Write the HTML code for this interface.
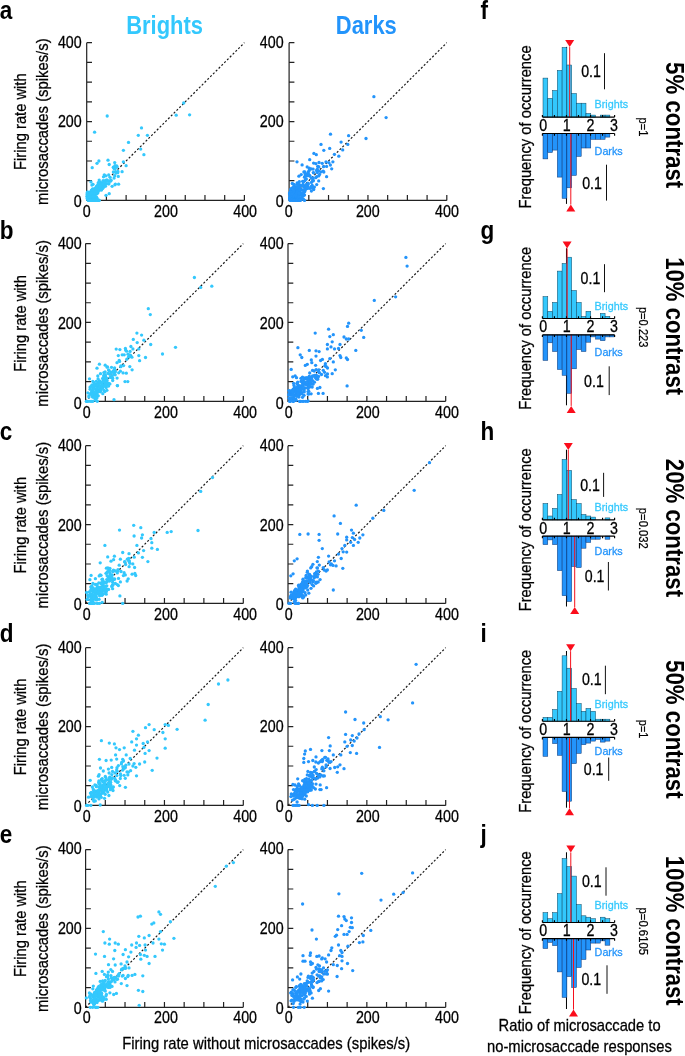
<!DOCTYPE html>
<html lang="en"><head><meta charset="utf-8"><title>Figure</title>
<style>html,body{margin:0;padding:0;background:#fff}svg{display:block;will-change:transform}</style></head>
<body>
<svg width="685" height="1056" viewBox="0 0 685 1056" font-family='"Liberation Sans", sans-serif'>
<rect width="685" height="1056" fill="#fff"/>
<text transform="translate(126.20,33.90) scale(0.868,1)" font-size="25.3" text-anchor="start" font-weight="bold" fill="#33C8FD">Brights</text>
<text transform="translate(335.80,33.80) scale(0.868,1)" font-size="25.3" text-anchor="start" font-weight="bold" fill="#2394FB">Darks</text>
<text transform="translate(-0.30,19.10) scale(0.85,1)" font-size="26.5" text-anchor="start" font-weight="bold" fill="#000">a</text>
<text transform="translate(480.40,19.10) scale(0.85,1)" font-size="26.5" text-anchor="start" font-weight="bold" fill="#000">f</text>
<text transform="translate(-0.30,238.60) scale(0.85,1)" font-size="26.5" text-anchor="start" font-weight="bold" fill="#000">b</text>
<text transform="translate(480.40,238.60) scale(0.85,1)" font-size="26.5" text-anchor="start" font-weight="bold" fill="#000">g</text>
<text transform="translate(-0.30,440.10) scale(0.85,1)" font-size="26.5" text-anchor="start" font-weight="bold" fill="#000">c</text>
<text transform="translate(480.40,440.10) scale(0.85,1)" font-size="26.5" text-anchor="start" font-weight="bold" fill="#000">h</text>
<text transform="translate(-0.30,641.50) scale(0.85,1)" font-size="26.5" text-anchor="start" font-weight="bold" fill="#000">d</text>
<text transform="translate(480.40,641.50) scale(0.85,1)" font-size="26.5" text-anchor="start" font-weight="bold" fill="#000">i</text>
<text transform="translate(-0.30,843.40) scale(0.85,1)" font-size="26.5" text-anchor="start" font-weight="bold" fill="#000">e</text>
<text transform="translate(480.40,843.40) scale(0.85,1)" font-size="26.5" text-anchor="start" font-weight="bold" fill="#000">j</text>
<path d="M86.70 42.70V200.40H244.40M86.70 180.69h5.3M106.41 200.40v-5.3M86.70 160.98h5.3M126.12 200.40v-5.3M86.70 141.26h5.3M145.84 200.40v-5.3M86.70 121.55h5.3M165.55 200.40v-5.3M86.70 101.84h5.3M185.26 200.40v-5.3M86.70 82.13h5.3M204.97 200.40v-5.3M86.70 62.41h5.3M224.69 200.40v-5.3M86.70 42.70h5.3M244.40 200.40v-5.3" fill="none" stroke="#222" stroke-width="1.2"/>
<line x1="86.70" y1="200.40" x2="244.40" y2="42.70" stroke="#1a1a1a" stroke-width="1.2" stroke-dasharray="2.05 1.92"/>
<g fill="#33C8FD"><circle cx="88.6" cy="199.2" r="1.65"/><circle cx="94.2" cy="194.0" r="1.65"/><circle cx="89.1" cy="194.6" r="1.65"/><circle cx="87.6" cy="198.8" r="1.65"/><circle cx="94.9" cy="190.4" r="1.65"/><circle cx="93.4" cy="192.0" r="1.65"/><circle cx="87.7" cy="197.8" r="1.65"/><circle cx="89.1" cy="200.0" r="1.65"/><circle cx="94.5" cy="190.6" r="1.65"/><circle cx="91.7" cy="191.2" r="1.65"/><circle cx="87.7" cy="197.4" r="1.65"/><circle cx="94.5" cy="191.7" r="1.65"/><circle cx="93.0" cy="196.8" r="1.65"/><circle cx="102.5" cy="183.5" r="1.65"/><circle cx="94.9" cy="198.9" r="1.65"/><circle cx="92.7" cy="195.5" r="1.65"/><circle cx="91.8" cy="200.0" r="1.65"/><circle cx="89.3" cy="195.1" r="1.65"/><circle cx="92.5" cy="194.2" r="1.65"/><circle cx="94.9" cy="196.7" r="1.65"/><circle cx="101.2" cy="189.8" r="1.65"/><circle cx="93.6" cy="195.4" r="1.65"/><circle cx="96.5" cy="197.2" r="1.65"/><circle cx="96.4" cy="199.3" r="1.65"/><circle cx="90.8" cy="192.5" r="1.65"/><circle cx="87.8" cy="198.8" r="1.65"/><circle cx="93.5" cy="191.8" r="1.65"/><circle cx="96.2" cy="188.9" r="1.65"/><circle cx="93.5" cy="200.0" r="1.65"/><circle cx="114.7" cy="175.7" r="1.65"/><circle cx="92.1" cy="199.2" r="1.65"/><circle cx="87.4" cy="194.6" r="1.65"/><circle cx="88.5" cy="198.2" r="1.65"/><circle cx="89.8" cy="193.4" r="1.65"/><circle cx="91.5" cy="198.5" r="1.65"/><circle cx="100.7" cy="182.4" r="1.65"/><circle cx="100.3" cy="187.4" r="1.65"/><circle cx="107.7" cy="180.8" r="1.65"/><circle cx="109.9" cy="180.9" r="1.65"/><circle cx="91.2" cy="193.8" r="1.65"/><circle cx="87.6" cy="199.0" r="1.65"/><circle cx="96.2" cy="188.7" r="1.65"/><circle cx="89.9" cy="197.2" r="1.65"/><circle cx="90.0" cy="195.8" r="1.65"/><circle cx="88.6" cy="197.8" r="1.65"/><circle cx="89.3" cy="196.6" r="1.65"/><circle cx="103.9" cy="185.2" r="1.65"/><circle cx="88.3" cy="196.1" r="1.65"/><circle cx="103.5" cy="176.8" r="1.65"/><circle cx="114.9" cy="184.8" r="1.65"/><circle cx="104.5" cy="181.8" r="1.65"/><circle cx="89.2" cy="198.2" r="1.65"/><circle cx="92.6" cy="188.9" r="1.65"/><circle cx="93.4" cy="193.3" r="1.65"/><circle cx="87.5" cy="197.4" r="1.65"/><circle cx="115.3" cy="168.5" r="1.65"/><circle cx="110.4" cy="181.2" r="1.65"/><circle cx="90.1" cy="192.0" r="1.65"/><circle cx="97.8" cy="192.8" r="1.65"/><circle cx="96.5" cy="193.9" r="1.65"/><circle cx="91.5" cy="190.1" r="1.65"/><circle cx="101.6" cy="185.9" r="1.65"/><circle cx="89.2" cy="199.8" r="1.65"/><circle cx="105.9" cy="175.8" r="1.65"/><circle cx="98.3" cy="182.6" r="1.65"/><circle cx="91.1" cy="195.7" r="1.65"/><circle cx="100.9" cy="185.7" r="1.65"/><circle cx="96.6" cy="189.3" r="1.65"/><circle cx="90.1" cy="198.9" r="1.65"/><circle cx="91.8" cy="195.5" r="1.65"/><circle cx="96.8" cy="186.2" r="1.65"/><circle cx="93.4" cy="199.8" r="1.65"/><circle cx="101.5" cy="189.9" r="1.65"/><circle cx="97.8" cy="190.0" r="1.65"/><circle cx="88.5" cy="198.7" r="1.65"/><circle cx="94.1" cy="191.1" r="1.65"/><circle cx="96.2" cy="187.0" r="1.65"/><circle cx="93.7" cy="198.9" r="1.65"/><circle cx="92.4" cy="196.7" r="1.65"/><circle cx="88.8" cy="197.8" r="1.65"/><circle cx="108.5" cy="183.9" r="1.65"/><circle cx="96.9" cy="193.5" r="1.65"/><circle cx="104.4" cy="186.0" r="1.65"/><circle cx="95.0" cy="199.9" r="1.65"/><circle cx="113.4" cy="172.0" r="1.65"/><circle cx="95.4" cy="199.2" r="1.65"/><circle cx="91.1" cy="198.8" r="1.65"/><circle cx="89.2" cy="195.8" r="1.65"/><circle cx="92.2" cy="193.8" r="1.65"/><circle cx="114.2" cy="168.1" r="1.65"/><circle cx="87.7" cy="195.2" r="1.65"/><circle cx="103.8" cy="187.1" r="1.65"/><circle cx="108.7" cy="175.0" r="1.65"/><circle cx="91.6" cy="198.4" r="1.65"/><circle cx="89.4" cy="197.9" r="1.65"/><circle cx="90.0" cy="198.3" r="1.65"/><circle cx="91.9" cy="185.1" r="1.65"/><circle cx="87.2" cy="196.4" r="1.65"/><circle cx="94.8" cy="192.6" r="1.65"/><circle cx="97.9" cy="187.1" r="1.65"/><circle cx="89.4" cy="193.2" r="1.65"/><circle cx="99.2" cy="180.1" r="1.65"/><circle cx="88.4" cy="199.9" r="1.65"/><circle cx="102.7" cy="188.4" r="1.65"/><circle cx="104.3" cy="174.8" r="1.65"/><circle cx="95.0" cy="188.3" r="1.65"/><circle cx="89.3" cy="200.1" r="1.65"/><circle cx="90.6" cy="195.0" r="1.65"/><circle cx="88.0" cy="198.0" r="1.65"/><circle cx="89.1" cy="197.8" r="1.65"/><circle cx="91.7" cy="198.1" r="1.65"/><circle cx="87.6" cy="199.5" r="1.65"/><circle cx="97.6" cy="188.8" r="1.65"/><circle cx="89.8" cy="195.9" r="1.65"/><circle cx="95.4" cy="192.4" r="1.65"/><circle cx="97.7" cy="192.8" r="1.65"/><circle cx="94.6" cy="189.8" r="1.65"/><circle cx="102.2" cy="188.0" r="1.65"/><circle cx="87.3" cy="198.2" r="1.65"/><circle cx="93.9" cy="193.3" r="1.65"/><circle cx="95.1" cy="189.8" r="1.65"/><circle cx="102.2" cy="185.5" r="1.65"/><circle cx="89.2" cy="195.5" r="1.65"/><circle cx="90.6" cy="197.2" r="1.65"/><circle cx="93.0" cy="184.3" r="1.65"/><circle cx="104.2" cy="184.4" r="1.65"/><circle cx="88.4" cy="195.9" r="1.65"/><circle cx="90.2" cy="195.7" r="1.65"/><circle cx="87.2" cy="196.4" r="1.65"/><circle cx="89.6" cy="196.9" r="1.65"/><circle cx="88.7" cy="198.3" r="1.65"/><circle cx="97.4" cy="189.7" r="1.65"/><circle cx="118.3" cy="176.4" r="1.65"/><circle cx="88.5" cy="196.8" r="1.65"/><circle cx="101.0" cy="186.3" r="1.65"/><circle cx="94.0" cy="189.1" r="1.65"/><circle cx="111.1" cy="180.2" r="1.65"/><circle cx="94.1" cy="199.2" r="1.65"/><circle cx="110.1" cy="177.3" r="1.65"/><circle cx="117.7" cy="172.7" r="1.65"/><circle cx="87.2" cy="195.1" r="1.65"/><circle cx="98.0" cy="184.4" r="1.65"/><circle cx="102.5" cy="185.0" r="1.65"/><circle cx="105.3" cy="181.8" r="1.65"/><circle cx="97.9" cy="189.9" r="1.65"/><circle cx="92.1" cy="196.1" r="1.65"/><circle cx="89.1" cy="198.3" r="1.65"/><circle cx="90.8" cy="198.4" r="1.65"/><circle cx="92.7" cy="193.9" r="1.65"/><circle cx="91.1" cy="200.4" r="1.65"/><circle cx="88.9" cy="198.3" r="1.65"/><circle cx="89.3" cy="200.4" r="1.65"/><circle cx="90.1" cy="199.3" r="1.65"/><circle cx="94.5" cy="197.2" r="1.65"/><circle cx="96.7" cy="192.2" r="1.65"/><circle cx="90.5" cy="196.2" r="1.65"/><circle cx="88.6" cy="194.9" r="1.65"/><circle cx="100.6" cy="185.2" r="1.65"/><circle cx="88.9" cy="194.0" r="1.65"/><circle cx="88.9" cy="196.6" r="1.65"/><circle cx="105.5" cy="186.2" r="1.65"/><circle cx="98.7" cy="189.3" r="1.65"/><circle cx="90.7" cy="196.4" r="1.65"/><circle cx="88.3" cy="197.0" r="1.65"/><circle cx="94.8" cy="189.6" r="1.65"/><circle cx="93.6" cy="192.6" r="1.65"/><circle cx="104.6" cy="184.4" r="1.65"/><circle cx="93.4" cy="196.1" r="1.65"/><circle cx="97.7" cy="186.6" r="1.65"/><circle cx="90.2" cy="197.0" r="1.65"/><circle cx="95.4" cy="190.5" r="1.65"/><circle cx="100.5" cy="186.6" r="1.65"/><circle cx="89.3" cy="195.3" r="1.65"/><circle cx="99.4" cy="181.9" r="1.65"/><circle cx="122.1" cy="171.7" r="1.65"/><circle cx="98.1" cy="189.3" r="1.65"/><circle cx="96.0" cy="192.2" r="1.65"/><circle cx="101.1" cy="186.3" r="1.65"/><circle cx="89.1" cy="197.0" r="1.65"/><circle cx="90.3" cy="198.4" r="1.65"/><circle cx="89.1" cy="192.8" r="1.65"/><circle cx="94.0" cy="196.3" r="1.65"/><circle cx="88.9" cy="199.3" r="1.65"/><circle cx="100.1" cy="189.8" r="1.65"/><circle cx="88.2" cy="198.9" r="1.65"/><circle cx="88.3" cy="199.5" r="1.65"/><circle cx="88.3" cy="197.6" r="1.65"/><circle cx="115.4" cy="171.7" r="1.65"/><circle cx="92.7" cy="197.8" r="1.65"/><circle cx="88.3" cy="196.5" r="1.65"/><circle cx="89.1" cy="197.0" r="1.65"/><circle cx="99.5" cy="185.8" r="1.65"/><circle cx="89.7" cy="199.1" r="1.65"/><circle cx="87.3" cy="193.8" r="1.65"/><circle cx="89.0" cy="199.8" r="1.65"/><circle cx="91.8" cy="192.2" r="1.65"/><circle cx="88.9" cy="200.3" r="1.65"/><circle cx="98.1" cy="185.4" r="1.65"/><circle cx="94.4" cy="198.5" r="1.65"/><circle cx="104.5" cy="183.5" r="1.65"/><circle cx="108.9" cy="183.7" r="1.65"/><circle cx="94.1" cy="191.8" r="1.65"/><circle cx="100.5" cy="188.7" r="1.65"/><circle cx="89.9" cy="199.3" r="1.65"/><circle cx="102.4" cy="183.5" r="1.65"/><circle cx="98.4" cy="187.7" r="1.65"/><circle cx="88.9" cy="198.6" r="1.65"/><circle cx="90.5" cy="196.8" r="1.65"/><circle cx="99.2" cy="184.4" r="1.65"/><circle cx="90.0" cy="199.5" r="1.65"/><circle cx="103.4" cy="184.0" r="1.65"/><circle cx="92.5" cy="194.0" r="1.65"/><circle cx="90.7" cy="200.0" r="1.65"/><circle cx="90.5" cy="197.5" r="1.65"/><circle cx="106.2" cy="183.6" r="1.65"/><circle cx="89.4" cy="194.9" r="1.65"/><circle cx="91.5" cy="196.2" r="1.65"/><circle cx="95.5" cy="194.1" r="1.65"/><circle cx="92.0" cy="199.1" r="1.65"/><circle cx="104.3" cy="181.9" r="1.65"/><circle cx="89.4" cy="196.8" r="1.65"/><circle cx="116.0" cy="173.1" r="1.65"/><circle cx="98.9" cy="200.1" r="1.65"/><circle cx="100.5" cy="186.6" r="1.65"/><circle cx="94.3" cy="193.7" r="1.65"/><circle cx="89.3" cy="197.6" r="1.65"/><circle cx="89.4" cy="197.5" r="1.65"/><circle cx="88.5" cy="196.5" r="1.65"/><circle cx="95.9" cy="191.7" r="1.65"/><circle cx="93.1" cy="190.1" r="1.65"/><circle cx="98.7" cy="187.0" r="1.65"/><circle cx="89.3" cy="197.2" r="1.65"/><circle cx="95.7" cy="192.0" r="1.65"/><circle cx="87.9" cy="198.2" r="1.65"/><circle cx="91.5" cy="195.3" r="1.65"/><circle cx="117.9" cy="171.5" r="1.65"/><circle cx="98.6" cy="185.8" r="1.65"/><circle cx="94.0" cy="194.2" r="1.65"/><circle cx="92.9" cy="191.6" r="1.65"/><circle cx="100.1" cy="186.1" r="1.65"/><circle cx="90.7" cy="196.7" r="1.65"/><circle cx="90.5" cy="199.9" r="1.65"/><circle cx="89.6" cy="195.9" r="1.65"/><circle cx="103.1" cy="180.6" r="1.65"/><circle cx="95.6" cy="196.9" r="1.65"/><circle cx="89.5" cy="197.4" r="1.65"/><circle cx="94.8" cy="193.7" r="1.65"/><circle cx="105.5" cy="180.4" r="1.65"/><circle cx="94.1" cy="190.5" r="1.65"/><circle cx="91.8" cy="198.8" r="1.65"/><circle cx="114.1" cy="178.1" r="1.65"/><circle cx="88.8" cy="196.9" r="1.65"/><circle cx="95.0" cy="194.6" r="1.65"/><circle cx="90.7" cy="196.4" r="1.65"/><circle cx="96.2" cy="188.0" r="1.65"/><circle cx="97.1" cy="198.5" r="1.65"/><circle cx="88.1" cy="192.7" r="1.65"/><circle cx="100.3" cy="184.9" r="1.65"/><circle cx="95.6" cy="191.6" r="1.65"/><circle cx="116.7" cy="166.0" r="1.65"/><circle cx="88.2" cy="198.3" r="1.65"/><circle cx="97.2" cy="186.5" r="1.65"/><circle cx="96.2" cy="192.4" r="1.65"/><circle cx="93.8" cy="191.7" r="1.65"/><circle cx="100.4" cy="187.3" r="1.65"/><circle cx="89.0" cy="196.8" r="1.65"/><circle cx="90.9" cy="194.4" r="1.65"/><circle cx="89.3" cy="194.9" r="1.65"/><circle cx="90.4" cy="196.5" r="1.65"/><circle cx="88.0" cy="198.0" r="1.65"/><circle cx="91.7" cy="196.3" r="1.65"/><circle cx="93.7" cy="194.6" r="1.65"/><circle cx="90.4" cy="199.4" r="1.65"/><circle cx="87.6" cy="191.8" r="1.65"/><circle cx="87.2" cy="192.8" r="1.65"/><circle cx="95.5" cy="191.3" r="1.65"/><circle cx="98.7" cy="190.6" r="1.65"/><circle cx="91.0" cy="195.6" r="1.65"/><circle cx="115.0" cy="165.6" r="1.65"/><circle cx="89.6" cy="195.1" r="1.65"/><circle cx="91.2" cy="196.9" r="1.65"/><circle cx="92.0" cy="191.0" r="1.65"/><circle cx="91.4" cy="198.3" r="1.65"/><circle cx="93.7" cy="198.7" r="1.65"/><circle cx="88.7" cy="194.9" r="1.65"/><circle cx="91.5" cy="198.8" r="1.65"/><circle cx="89.0" cy="198.4" r="1.65"/><circle cx="113.3" cy="167.2" r="1.65"/><circle cx="87.9" cy="198.2" r="1.65"/><circle cx="91.1" cy="199.3" r="1.65"/><circle cx="93.8" cy="195.9" r="1.65"/><circle cx="93.8" cy="197.7" r="1.65"/><circle cx="89.1" cy="195.8" r="1.65"/><circle cx="93.3" cy="196.3" r="1.65"/><circle cx="106.9" cy="180.0" r="1.65"/><circle cx="89.2" cy="199.4" r="1.65"/><circle cx="90.0" cy="196.8" r="1.65"/><circle cx="90.7" cy="197.3" r="1.65"/><circle cx="89.0" cy="198.2" r="1.65"/><circle cx="107.6" cy="181.0" r="1.65"/><circle cx="93.9" cy="193.3" r="1.65"/><circle cx="115.4" cy="184.1" r="1.65"/><circle cx="112.1" cy="186.3" r="1.65"/><circle cx="90.0" cy="196.7" r="1.65"/><circle cx="89.5" cy="197.5" r="1.65"/><circle cx="92.9" cy="196.2" r="1.65"/><circle cx="89.0" cy="198.2" r="1.65"/><circle cx="91.7" cy="193.3" r="1.65"/><circle cx="100.2" cy="186.3" r="1.65"/><circle cx="114.1" cy="168.5" r="1.65"/><circle cx="88.8" cy="200.4" r="1.65"/><circle cx="93.8" cy="200.4" r="1.65"/><circle cx="95.0" cy="200.4" r="1.65"/><circle cx="91.7" cy="200.4" r="1.65"/><circle cx="97.8" cy="200.4" r="1.65"/><circle cx="94.1" cy="200.4" r="1.65"/><circle cx="94.3" cy="200.4" r="1.65"/><circle cx="97.9" cy="200.4" r="1.65"/><circle cx="88.7" cy="200.4" r="1.65"/><circle cx="99.2" cy="200.4" r="1.65"/><circle cx="94.9" cy="200.4" r="1.65"/><circle cx="92.2" cy="200.4" r="1.65"/><circle cx="96.9" cy="200.4" r="1.65"/><circle cx="90.6" cy="200.4" r="1.65"/><circle cx="107.2" cy="116.0" r="1.65"/><circle cx="94.6" cy="132.2" r="1.65"/><circle cx="141.5" cy="127.9" r="1.65"/><circle cx="138.3" cy="135.3" r="1.65"/><circle cx="147.4" cy="135.3" r="1.65"/><circle cx="128.5" cy="142.4" r="1.65"/><circle cx="123.4" cy="150.3" r="1.65"/><circle cx="140.7" cy="149.1" r="1.65"/><circle cx="143.9" cy="154.7" r="1.65"/><circle cx="183.7" cy="103.0" r="1.65"/><circle cx="176.2" cy="115.2" r="1.65"/><circle cx="189.6" cy="114.8" r="1.65"/><circle cx="108.0" cy="160.2" r="1.65"/><circle cx="98.9" cy="161.0" r="1.65"/><circle cx="97.0" cy="163.3" r="1.65"/><circle cx="92.2" cy="167.7" r="1.65"/><circle cx="109.2" cy="164.5" r="1.65"/><circle cx="114.7" cy="162.6" r="1.65"/><circle cx="117.1" cy="166.9" r="1.65"/><circle cx="123.4" cy="161.8" r="1.65"/><circle cx="126.1" cy="165.7" r="1.65"/><circle cx="91.0" cy="181.9" r="1.65"/><circle cx="118.6" cy="184.2" r="1.65"/><circle cx="109.2" cy="193.7" r="1.65"/><circle cx="106.0" cy="195.3" r="1.65"/></g>
<text transform="translate(81.70,206.95) scale(0.86,1)" font-size="16.6" text-anchor="end" font-weight="normal" fill="#000" stroke="#000" stroke-width="0.28">0</text>
<text transform="translate(86.80,216.60) scale(0.86,1)" font-size="16.6" text-anchor="middle" font-weight="normal" fill="#000" stroke="#000" stroke-width="0.28">0</text>
<text transform="translate(81.70,127.35) scale(0.86,1)" font-size="16.6" text-anchor="end" font-weight="normal" fill="#000" stroke="#000" stroke-width="0.28">200</text>
<text transform="translate(165.98,216.60) scale(0.86,1)" font-size="16.6" text-anchor="middle" font-weight="normal" fill="#000" stroke="#000" stroke-width="0.28">200</text>
<text transform="translate(81.70,47.75) scale(0.86,1)" font-size="16.6" text-anchor="end" font-weight="normal" fill="#000" stroke="#000" stroke-width="0.28">400</text>
<text transform="translate(245.16,216.60) scale(0.86,1)" font-size="16.6" text-anchor="middle" font-weight="normal" fill="#000" stroke="#000" stroke-width="0.28">400</text>
<path d="M289.10 42.70V200.40H446.80M289.10 180.69h5.3M308.81 200.40v-5.3M289.10 160.98h5.3M328.53 200.40v-5.3M289.10 141.26h5.3M348.24 200.40v-5.3M289.10 121.55h5.3M367.95 200.40v-5.3M289.10 101.84h5.3M387.66 200.40v-5.3M289.10 82.13h5.3M407.38 200.40v-5.3M289.10 62.41h5.3M427.09 200.40v-5.3M289.10 42.70h5.3M446.80 200.40v-5.3" fill="none" stroke="#222" stroke-width="1.2"/>
<line x1="289.10" y1="200.40" x2="446.80" y2="42.70" stroke="#1a1a1a" stroke-width="1.2" stroke-dasharray="2.05 1.92"/>
<g fill="#2394FB"><circle cx="297.2" cy="183.0" r="1.65"/><circle cx="298.0" cy="194.1" r="1.65"/><circle cx="290.4" cy="198.1" r="1.65"/><circle cx="298.4" cy="199.5" r="1.65"/><circle cx="311.4" cy="191.1" r="1.65"/><circle cx="297.4" cy="191.1" r="1.65"/><circle cx="317.9" cy="166.3" r="1.65"/><circle cx="290.3" cy="195.9" r="1.65"/><circle cx="292.6" cy="194.0" r="1.65"/><circle cx="295.1" cy="197.9" r="1.65"/><circle cx="305.0" cy="188.6" r="1.65"/><circle cx="307.5" cy="175.5" r="1.65"/><circle cx="290.9" cy="191.6" r="1.65"/><circle cx="295.7" cy="193.0" r="1.65"/><circle cx="294.1" cy="187.3" r="1.65"/><circle cx="302.5" cy="190.1" r="1.65"/><circle cx="294.8" cy="197.3" r="1.65"/><circle cx="295.8" cy="191.3" r="1.65"/><circle cx="292.4" cy="194.5" r="1.65"/><circle cx="294.7" cy="195.5" r="1.65"/><circle cx="303.0" cy="184.4" r="1.65"/><circle cx="292.8" cy="199.1" r="1.65"/><circle cx="299.2" cy="188.1" r="1.65"/><circle cx="302.6" cy="194.7" r="1.65"/><circle cx="298.6" cy="190.8" r="1.65"/><circle cx="309.3" cy="168.2" r="1.65"/><circle cx="296.7" cy="197.3" r="1.65"/><circle cx="301.0" cy="190.0" r="1.65"/><circle cx="293.0" cy="193.0" r="1.65"/><circle cx="290.8" cy="199.3" r="1.65"/><circle cx="291.3" cy="198.5" r="1.65"/><circle cx="301.3" cy="199.6" r="1.65"/><circle cx="295.1" cy="193.4" r="1.65"/><circle cx="298.9" cy="176.2" r="1.65"/><circle cx="316.7" cy="176.6" r="1.65"/><circle cx="313.3" cy="187.7" r="1.65"/><circle cx="294.3" cy="193.4" r="1.65"/><circle cx="297.2" cy="184.1" r="1.65"/><circle cx="312.2" cy="185.3" r="1.65"/><circle cx="296.8" cy="198.1" r="1.65"/><circle cx="313.6" cy="163.1" r="1.65"/><circle cx="293.7" cy="184.3" r="1.65"/><circle cx="318.7" cy="180.9" r="1.65"/><circle cx="293.8" cy="193.7" r="1.65"/><circle cx="292.7" cy="195.5" r="1.65"/><circle cx="290.7" cy="195.2" r="1.65"/><circle cx="295.5" cy="193.3" r="1.65"/><circle cx="303.7" cy="186.8" r="1.65"/><circle cx="293.9" cy="192.1" r="1.65"/><circle cx="292.8" cy="195.2" r="1.65"/><circle cx="293.5" cy="197.4" r="1.65"/><circle cx="290.5" cy="198.1" r="1.65"/><circle cx="309.5" cy="175.7" r="1.65"/><circle cx="295.3" cy="188.2" r="1.65"/><circle cx="303.7" cy="186.1" r="1.65"/><circle cx="297.5" cy="187.9" r="1.65"/><circle cx="290.9" cy="191.1" r="1.65"/><circle cx="307.6" cy="175.1" r="1.65"/><circle cx="298.0" cy="195.2" r="1.65"/><circle cx="290.2" cy="196.7" r="1.65"/><circle cx="290.2" cy="198.4" r="1.65"/><circle cx="297.4" cy="187.6" r="1.65"/><circle cx="299.5" cy="188.9" r="1.65"/><circle cx="305.0" cy="176.3" r="1.65"/><circle cx="305.5" cy="186.5" r="1.65"/><circle cx="296.5" cy="188.7" r="1.65"/><circle cx="306.3" cy="178.9" r="1.65"/><circle cx="298.9" cy="184.7" r="1.65"/><circle cx="291.5" cy="195.4" r="1.65"/><circle cx="292.6" cy="198.9" r="1.65"/><circle cx="313.4" cy="172.6" r="1.65"/><circle cx="290.7" cy="196.7" r="1.65"/><circle cx="293.2" cy="197.5" r="1.65"/><circle cx="305.5" cy="179.5" r="1.65"/><circle cx="302.6" cy="181.3" r="1.65"/><circle cx="309.0" cy="175.5" r="1.65"/><circle cx="296.5" cy="190.2" r="1.65"/><circle cx="296.5" cy="186.9" r="1.65"/><circle cx="296.2" cy="188.4" r="1.65"/><circle cx="304.5" cy="177.2" r="1.65"/><circle cx="301.5" cy="195.3" r="1.65"/><circle cx="295.4" cy="197.4" r="1.65"/><circle cx="317.2" cy="169.3" r="1.65"/><circle cx="310.0" cy="188.4" r="1.65"/><circle cx="299.6" cy="192.3" r="1.65"/><circle cx="289.5" cy="194.1" r="1.65"/><circle cx="308.3" cy="183.8" r="1.65"/><circle cx="299.7" cy="192.3" r="1.65"/><circle cx="299.8" cy="194.7" r="1.65"/><circle cx="299.7" cy="199.4" r="1.65"/><circle cx="303.5" cy="199.3" r="1.65"/><circle cx="293.1" cy="195.4" r="1.65"/><circle cx="294.1" cy="189.4" r="1.65"/><circle cx="294.9" cy="196.5" r="1.65"/><circle cx="311.5" cy="186.5" r="1.65"/><circle cx="300.2" cy="189.4" r="1.65"/><circle cx="298.4" cy="197.2" r="1.65"/><circle cx="305.6" cy="175.9" r="1.65"/><circle cx="290.5" cy="199.6" r="1.65"/><circle cx="290.2" cy="194.8" r="1.65"/><circle cx="307.5" cy="184.3" r="1.65"/><circle cx="294.6" cy="191.5" r="1.65"/><circle cx="299.1" cy="188.0" r="1.65"/><circle cx="295.5" cy="191.1" r="1.65"/><circle cx="304.8" cy="191.6" r="1.65"/><circle cx="308.0" cy="186.3" r="1.65"/><circle cx="308.4" cy="171.9" r="1.65"/><circle cx="296.0" cy="195.6" r="1.65"/><circle cx="296.4" cy="193.6" r="1.65"/><circle cx="295.6" cy="196.2" r="1.65"/><circle cx="291.8" cy="195.2" r="1.65"/><circle cx="296.2" cy="193.8" r="1.65"/><circle cx="291.3" cy="194.8" r="1.65"/><circle cx="305.1" cy="186.9" r="1.65"/><circle cx="318.7" cy="175.9" r="1.65"/><circle cx="294.2" cy="187.3" r="1.65"/><circle cx="300.7" cy="193.6" r="1.65"/><circle cx="293.6" cy="194.8" r="1.65"/><circle cx="290.2" cy="198.5" r="1.65"/><circle cx="307.2" cy="174.1" r="1.65"/><circle cx="303.9" cy="172.0" r="1.65"/><circle cx="317.8" cy="166.6" r="1.65"/><circle cx="299.8" cy="198.4" r="1.65"/><circle cx="314.4" cy="187.1" r="1.65"/><circle cx="292.5" cy="193.2" r="1.65"/><circle cx="291.3" cy="199.6" r="1.65"/><circle cx="292.3" cy="197.0" r="1.65"/><circle cx="304.5" cy="195.0" r="1.65"/><circle cx="299.7" cy="192.0" r="1.65"/><circle cx="303.9" cy="190.6" r="1.65"/><circle cx="293.3" cy="200.1" r="1.65"/><circle cx="296.8" cy="197.6" r="1.65"/><circle cx="331.7" cy="168.8" r="1.65"/><circle cx="292.3" cy="183.5" r="1.65"/><circle cx="291.3" cy="199.3" r="1.65"/><circle cx="302.7" cy="193.7" r="1.65"/><circle cx="296.6" cy="200.3" r="1.65"/><circle cx="293.1" cy="197.4" r="1.65"/><circle cx="299.8" cy="187.1" r="1.65"/><circle cx="298.9" cy="194.0" r="1.65"/><circle cx="311.3" cy="178.1" r="1.65"/><circle cx="292.5" cy="198.6" r="1.65"/><circle cx="306.0" cy="173.8" r="1.65"/><circle cx="293.5" cy="191.1" r="1.65"/><circle cx="293.3" cy="199.6" r="1.65"/><circle cx="313.0" cy="180.2" r="1.65"/><circle cx="305.8" cy="189.3" r="1.65"/><circle cx="304.9" cy="189.5" r="1.65"/><circle cx="294.7" cy="197.2" r="1.65"/><circle cx="293.7" cy="199.8" r="1.65"/><circle cx="301.7" cy="198.3" r="1.65"/><circle cx="313.0" cy="180.6" r="1.65"/><circle cx="293.1" cy="197.6" r="1.65"/><circle cx="295.7" cy="200.1" r="1.65"/><circle cx="297.9" cy="199.7" r="1.65"/><circle cx="301.2" cy="194.3" r="1.65"/><circle cx="302.2" cy="193.8" r="1.65"/><circle cx="292.6" cy="198.6" r="1.65"/><circle cx="290.7" cy="189.5" r="1.65"/><circle cx="294.4" cy="184.9" r="1.65"/><circle cx="290.2" cy="199.8" r="1.65"/><circle cx="294.6" cy="198.0" r="1.65"/><circle cx="297.9" cy="193.5" r="1.65"/><circle cx="313.7" cy="189.5" r="1.65"/><circle cx="303.5" cy="181.7" r="1.65"/><circle cx="291.1" cy="197.8" r="1.65"/><circle cx="293.5" cy="190.8" r="1.65"/><circle cx="297.1" cy="198.7" r="1.65"/><circle cx="295.8" cy="190.5" r="1.65"/><circle cx="296.4" cy="196.3" r="1.65"/><circle cx="298.9" cy="194.1" r="1.65"/><circle cx="313.1" cy="180.9" r="1.65"/><circle cx="307.9" cy="183.1" r="1.65"/><circle cx="315.8" cy="177.7" r="1.65"/><circle cx="309.2" cy="170.4" r="1.65"/><circle cx="299.6" cy="198.7" r="1.65"/><circle cx="293.0" cy="191.8" r="1.65"/><circle cx="318.8" cy="167.0" r="1.65"/><circle cx="292.9" cy="199.7" r="1.65"/><circle cx="299.4" cy="184.7" r="1.65"/><circle cx="303.2" cy="196.0" r="1.65"/><circle cx="319.6" cy="174.4" r="1.65"/><circle cx="313.1" cy="178.0" r="1.65"/><circle cx="323.5" cy="166.7" r="1.65"/><circle cx="310.0" cy="176.1" r="1.65"/><circle cx="294.7" cy="191.3" r="1.65"/><circle cx="306.1" cy="184.7" r="1.65"/><circle cx="293.4" cy="196.1" r="1.65"/><circle cx="294.0" cy="186.4" r="1.65"/><circle cx="297.2" cy="191.4" r="1.65"/><circle cx="323.1" cy="171.1" r="1.65"/><circle cx="303.6" cy="192.7" r="1.65"/><circle cx="290.5" cy="198.2" r="1.65"/><circle cx="297.5" cy="195.8" r="1.65"/><circle cx="297.1" cy="186.6" r="1.65"/><circle cx="294.6" cy="194.8" r="1.65"/><circle cx="294.2" cy="198.5" r="1.65"/><circle cx="291.6" cy="200.0" r="1.65"/><circle cx="308.7" cy="174.4" r="1.65"/><circle cx="296.3" cy="197.1" r="1.65"/><circle cx="293.4" cy="187.5" r="1.65"/><circle cx="290.2" cy="198.0" r="1.65"/><circle cx="316.5" cy="170.6" r="1.65"/><circle cx="292.9" cy="200.0" r="1.65"/><circle cx="306.5" cy="185.9" r="1.65"/><circle cx="297.4" cy="199.2" r="1.65"/><circle cx="301.7" cy="197.2" r="1.65"/><circle cx="312.2" cy="187.9" r="1.65"/><circle cx="328.8" cy="162.6" r="1.65"/><circle cx="311.4" cy="182.4" r="1.65"/><circle cx="291.7" cy="197.8" r="1.65"/><circle cx="291.5" cy="195.5" r="1.65"/><circle cx="290.7" cy="199.0" r="1.65"/><circle cx="293.4" cy="196.5" r="1.65"/><circle cx="300.8" cy="185.7" r="1.65"/><circle cx="309.7" cy="159.7" r="1.65"/><circle cx="299.3" cy="181.7" r="1.65"/><circle cx="294.5" cy="192.3" r="1.65"/><circle cx="294.5" cy="199.3" r="1.65"/><circle cx="290.7" cy="199.9" r="1.65"/><circle cx="302.7" cy="193.1" r="1.65"/><circle cx="291.4" cy="196.1" r="1.65"/><circle cx="294.0" cy="192.0" r="1.65"/><circle cx="295.0" cy="198.4" r="1.65"/><circle cx="301.2" cy="174.6" r="1.65"/><circle cx="301.3" cy="189.7" r="1.65"/><circle cx="296.1" cy="196.0" r="1.65"/><circle cx="313.9" cy="153.4" r="1.65"/><circle cx="290.9" cy="197.4" r="1.65"/><circle cx="295.3" cy="194.9" r="1.65"/><circle cx="289.8" cy="198.3" r="1.65"/><circle cx="298.9" cy="187.8" r="1.65"/><circle cx="291.2" cy="193.6" r="1.65"/><circle cx="290.6" cy="195.6" r="1.65"/><circle cx="289.6" cy="192.7" r="1.65"/><circle cx="292.5" cy="200.0" r="1.65"/><circle cx="304.8" cy="180.8" r="1.65"/><circle cx="297.3" cy="192.2" r="1.65"/><circle cx="296.4" cy="194.4" r="1.65"/><circle cx="317.2" cy="172.6" r="1.65"/><circle cx="298.7" cy="190.3" r="1.65"/><circle cx="292.6" cy="193.2" r="1.65"/><circle cx="291.2" cy="192.4" r="1.65"/><circle cx="299.7" cy="189.2" r="1.65"/><circle cx="293.7" cy="191.6" r="1.65"/><circle cx="300.1" cy="198.1" r="1.65"/><circle cx="291.6" cy="188.2" r="1.65"/><circle cx="297.2" cy="187.8" r="1.65"/><circle cx="300.7" cy="189.4" r="1.65"/><circle cx="293.7" cy="195.8" r="1.65"/><circle cx="290.4" cy="199.1" r="1.65"/><circle cx="290.1" cy="193.2" r="1.65"/><circle cx="299.6" cy="188.7" r="1.65"/><circle cx="299.6" cy="190.0" r="1.65"/><circle cx="291.1" cy="196.1" r="1.65"/><circle cx="313.1" cy="169.1" r="1.65"/><circle cx="290.3" cy="194.4" r="1.65"/><circle cx="330.4" cy="165.0" r="1.65"/><circle cx="298.2" cy="187.1" r="1.65"/><circle cx="302.6" cy="185.5" r="1.65"/><circle cx="293.7" cy="199.6" r="1.65"/><circle cx="319.0" cy="162.5" r="1.65"/><circle cx="297.3" cy="200.1" r="1.65"/><circle cx="326.0" cy="161.9" r="1.65"/><circle cx="293.6" cy="190.4" r="1.65"/><circle cx="289.6" cy="197.9" r="1.65"/><circle cx="305.4" cy="174.2" r="1.65"/><circle cx="320.8" cy="171.9" r="1.65"/><circle cx="291.8" cy="199.7" r="1.65"/><circle cx="295.9" cy="196.3" r="1.65"/><circle cx="326.6" cy="166.4" r="1.65"/><circle cx="299.1" cy="192.8" r="1.65"/><circle cx="295.9" cy="195.7" r="1.65"/><circle cx="290.9" cy="192.1" r="1.65"/><circle cx="300.1" cy="189.7" r="1.65"/><circle cx="289.9" cy="194.5" r="1.65"/><circle cx="291.1" cy="199.5" r="1.65"/><circle cx="291.9" cy="194.1" r="1.65"/><circle cx="307.6" cy="188.4" r="1.65"/><circle cx="298.6" cy="196.6" r="1.65"/><circle cx="300.3" cy="200.4" r="1.65"/><circle cx="297.8" cy="200.4" r="1.65"/><circle cx="295.2" cy="200.4" r="1.65"/><circle cx="294.0" cy="200.4" r="1.65"/><circle cx="293.6" cy="200.4" r="1.65"/><circle cx="298.6" cy="200.4" r="1.65"/><circle cx="296.4" cy="200.4" r="1.65"/><circle cx="299.8" cy="200.4" r="1.65"/><circle cx="290.1" cy="200.4" r="1.65"/><circle cx="295.9" cy="200.4" r="1.65"/><circle cx="304.5" cy="200.4" r="1.65"/><circle cx="293.9" cy="200.4" r="1.65"/><circle cx="373.9" cy="96.7" r="1.65"/><circle cx="386.1" cy="117.6" r="1.65"/><circle cx="366.0" cy="138.5" r="1.65"/><circle cx="330.5" cy="134.2" r="1.65"/><circle cx="348.6" cy="135.7" r="1.65"/><circle cx="321.0" cy="144.4" r="1.65"/><circle cx="341.1" cy="142.1" r="1.65"/><circle cx="347.8" cy="144.4" r="1.65"/><circle cx="329.7" cy="148.4" r="1.65"/><circle cx="323.8" cy="150.3" r="1.65"/><circle cx="342.7" cy="149.9" r="1.65"/><circle cx="316.3" cy="154.7" r="1.65"/><circle cx="334.4" cy="154.3" r="1.65"/><circle cx="338.8" cy="156.2" r="1.65"/><circle cx="297.0" cy="161.8" r="1.65"/><circle cx="332.9" cy="161.8" r="1.65"/><circle cx="322.2" cy="163.3" r="1.65"/><circle cx="315.9" cy="163.7" r="1.65"/><circle cx="302.1" cy="164.9" r="1.65"/><circle cx="307.2" cy="166.9" r="1.65"/><circle cx="311.2" cy="168.9" r="1.65"/><circle cx="304.9" cy="172.0" r="1.65"/><circle cx="313.5" cy="172.8" r="1.65"/><circle cx="318.7" cy="170.8" r="1.65"/><circle cx="323.8" cy="172.0" r="1.65"/><circle cx="326.6" cy="176.7" r="1.65"/><circle cx="323.4" cy="188.6" r="1.65"/><circle cx="316.7" cy="184.6" r="1.65"/></g>
<text transform="translate(283.65,206.95) scale(0.86,1)" font-size="16.6" text-anchor="end" font-weight="normal" fill="#000" stroke="#000" stroke-width="0.28">0</text>
<text transform="translate(288.60,216.60) scale(0.86,1)" font-size="16.6" text-anchor="middle" font-weight="normal" fill="#000" stroke="#000" stroke-width="0.28">0</text>
<text transform="translate(283.65,127.35) scale(0.86,1)" font-size="16.6" text-anchor="end" font-weight="normal" fill="#000" stroke="#000" stroke-width="0.28">200</text>
<text transform="translate(367.78,216.60) scale(0.86,1)" font-size="16.6" text-anchor="middle" font-weight="normal" fill="#000" stroke="#000" stroke-width="0.28">200</text>
<text transform="translate(283.65,47.75) scale(0.86,1)" font-size="16.6" text-anchor="end" font-weight="normal" fill="#000" stroke="#000" stroke-width="0.28">400</text>
<text transform="translate(446.96,216.60) scale(0.86,1)" font-size="16.6" text-anchor="middle" font-weight="normal" fill="#000" stroke="#000" stroke-width="0.28">400</text>
<text transform="translate(26.2,169.90) rotate(-90)" font-size="17.3" fill="#000" stroke="#000" stroke-width="0.28" textLength="96.5" lengthAdjust="spacingAndGlyphs">Firing rate with</text>
<text transform="translate(47.9,204.90) rotate(-90)" font-size="17.3" fill="#000" stroke="#000" stroke-width="0.28" textLength="166.5" lengthAdjust="spacingAndGlyphs">microsaccades (spikes/s)</text>
<path d="M566.47 46.90V117.10M566.47 133.50V203.90" stroke="#000" stroke-width="1.0" fill="none"/>
<g fill="#33C8FD" stroke="#0c4560" stroke-width="0.5"><rect x="543.00" y="78.10" width="4.78" height="39.00"/><rect x="547.77" y="98.30" width="4.78" height="18.80"/><rect x="552.55" y="90.50" width="4.78" height="26.60"/><rect x="557.33" y="70.40" width="4.78" height="46.70"/><rect x="562.10" y="47.50" width="4.78" height="69.60"/><rect x="566.88" y="65.00" width="4.78" height="52.10"/><rect x="571.65" y="93.50" width="4.78" height="23.60"/><rect x="576.42" y="103.20" width="4.78" height="13.90"/><rect x="581.20" y="103.20" width="4.78" height="13.90"/><rect x="585.98" y="113.50" width="4.78" height="3.60"/><rect x="590.75" y="115.10" width="4.78" height="2.00"/><rect x="600.30" y="115.10" width="4.78" height="2.00"/><rect x="605.08" y="115.10" width="4.78" height="2.00"/></g>
<g fill="#2394FB" stroke="#0b3270" stroke-width="0.5"><rect x="543.00" y="133.50" width="4.78" height="25.40"/><rect x="547.77" y="133.50" width="4.78" height="19.00"/><rect x="552.55" y="133.50" width="4.78" height="16.60"/><rect x="557.33" y="133.50" width="4.78" height="43.60"/><rect x="562.10" y="133.50" width="4.78" height="64.80"/><rect x="566.88" y="133.50" width="4.78" height="54.30"/><rect x="571.65" y="133.50" width="4.78" height="41.90"/><rect x="576.42" y="133.50" width="4.78" height="22.90"/><rect x="581.20" y="133.50" width="4.78" height="14.50"/><rect x="585.98" y="133.50" width="4.78" height="14.50"/><rect x="590.75" y="133.50" width="4.78" height="5.80"/><rect x="595.52" y="133.50" width="4.78" height="5.80"/><rect x="600.30" y="133.50" width="4.78" height="5.80"/><rect x="605.08" y="133.50" width="4.78" height="3.60"/></g>
<path d="M569.70 47.10V117.10M570.80 133.50V204.50" stroke="#f5101c" stroke-width="1.0" fill="none"/>
<path d="M565.20 40.10h9l-4.5 7z" fill="#fb0d1b"/>
<path d="M566.30 211.50h9l-4.5 -7z" fill="#fb0d1b"/>
<path d="M542.40 117.10H614.61M542.40 133.50H614.61M542.40 117.10v-2.2M542.40 133.50v2.2M554.43 117.10v-2.2M554.43 133.50v2.2M566.47 117.10v-2.2M566.47 133.50v2.2M578.50 117.10v-2.2M578.50 133.50v2.2M590.54 117.10v-2.2M590.54 133.50v2.2M602.57 117.10v-2.2M602.57 133.50v2.2M614.61 117.10v-2.2M614.61 133.50v2.2" stroke="#000" stroke-width="1.15" fill="none"/>
<text transform="translate(543.20,130.90) scale(0.86,1)" font-size="16.6" text-anchor="middle" font-weight="normal" fill="#000" stroke="#000" stroke-width="0.28">0</text>
<text transform="translate(566.78,130.90) scale(0.86,1)" font-size="16.6" text-anchor="middle" font-weight="normal" fill="#000" stroke="#000" stroke-width="0.28">1</text>
<text transform="translate(590.36,130.90) scale(0.86,1)" font-size="16.6" text-anchor="middle" font-weight="normal" fill="#000" stroke="#000" stroke-width="0.28">2</text>
<text transform="translate(613.94,130.90) scale(0.86,1)" font-size="16.6" text-anchor="middle" font-weight="normal" fill="#000" stroke="#000" stroke-width="0.28">3</text>
<path d="M604.50 53.20V89.30" stroke="#111" stroke-width="1.0"/>
<text transform="translate(600.90,77.30) scale(0.87,1)" font-size="16.3" text-anchor="end" font-weight="normal" fill="#000" stroke="#000" stroke-width="0.28">0.1</text>
<path d="M606.50 164.70V200.60" stroke="#111" stroke-width="1.0"/>
<text transform="translate(601.90,188.50) scale(0.87,1)" font-size="16.3" text-anchor="end" font-weight="normal" fill="#000" stroke="#000" stroke-width="0.28">0.1</text>
<text transform="translate(594.60,108.30) scale(0.93,1)" font-size="11.6" text-anchor="start" font-weight="normal" fill="#33C8FD" stroke="#33C8FD" stroke-width="0.28">Brights</text>
<text transform="translate(594.60,154.90) scale(0.93,1)" font-size="11.6" text-anchor="start" font-weight="normal" fill="#2394FB" stroke="#2394FB" stroke-width="0.28">Darks</text>
<text transform="translate(531.2,208.40) rotate(-90)" font-size="17.4" fill="#000" stroke="#000" stroke-width="0.28" textLength="163" lengthAdjust="spacingAndGlyphs">Frequency of occurrence</text>
<text transform="translate(639.0,117.50) rotate(90)" font-size="12" fill="#000" stroke="#000" stroke-width="0.2" textLength="19.0" lengthAdjust="spacingAndGlyphs">p=1</text>
<text transform="translate(666.0,62.05) rotate(90)" font-size="25.5" font-weight="bold" fill="#000" textLength="126.2" lengthAdjust="spacingAndGlyphs">5% contrast</text>
<path d="M85.60 243.60V401.30H243.30M85.60 381.59h5.3M105.31 401.30v-5.3M85.60 361.88h5.3M125.02 401.30v-5.3M85.60 342.16h5.3M144.74 401.30v-5.3M85.60 322.45h5.3M164.45 401.30v-5.3M85.60 302.74h5.3M184.16 401.30v-5.3M85.60 283.03h5.3M203.88 401.30v-5.3M85.60 263.31h5.3M223.59 401.30v-5.3M85.60 243.60h5.3M243.30 401.30v-5.3" fill="none" stroke="#222" stroke-width="1.2"/>
<line x1="85.60" y1="401.30" x2="243.30" y2="243.60" stroke="#1a1a1a" stroke-width="1.2" stroke-dasharray="2.05 1.92"/>
<g fill="#33C8FD"><circle cx="105.6" cy="378.1" r="1.65"/><circle cx="99.1" cy="389.8" r="1.65"/><circle cx="90.3" cy="388.0" r="1.65"/><circle cx="94.8" cy="398.6" r="1.65"/><circle cx="91.5" cy="392.2" r="1.65"/><circle cx="96.4" cy="394.4" r="1.65"/><circle cx="105.1" cy="372.0" r="1.65"/><circle cx="126.8" cy="359.2" r="1.65"/><circle cx="126.3" cy="373.2" r="1.65"/><circle cx="119.6" cy="361.4" r="1.65"/><circle cx="120.8" cy="366.7" r="1.65"/><circle cx="107.4" cy="384.6" r="1.65"/><circle cx="123.6" cy="365.6" r="1.65"/><circle cx="112.7" cy="380.5" r="1.65"/><circle cx="114.6" cy="368.0" r="1.65"/><circle cx="102.8" cy="387.2" r="1.65"/><circle cx="119.2" cy="360.5" r="1.65"/><circle cx="103.3" cy="380.4" r="1.65"/><circle cx="92.1" cy="390.6" r="1.65"/><circle cx="105.0" cy="375.3" r="1.65"/><circle cx="131.9" cy="357.2" r="1.65"/><circle cx="101.0" cy="383.2" r="1.65"/><circle cx="106.9" cy="378.7" r="1.65"/><circle cx="109.9" cy="383.9" r="1.65"/><circle cx="113.8" cy="372.7" r="1.65"/><circle cx="104.0" cy="390.5" r="1.65"/><circle cx="105.2" cy="365.2" r="1.65"/><circle cx="95.0" cy="396.3" r="1.65"/><circle cx="104.8" cy="375.8" r="1.65"/><circle cx="99.6" cy="380.9" r="1.65"/><circle cx="105.7" cy="380.4" r="1.65"/><circle cx="90.1" cy="387.1" r="1.65"/><circle cx="105.7" cy="381.8" r="1.65"/><circle cx="122.2" cy="354.8" r="1.65"/><circle cx="96.0" cy="393.8" r="1.65"/><circle cx="104.1" cy="380.3" r="1.65"/><circle cx="108.0" cy="373.4" r="1.65"/><circle cx="100.3" cy="387.0" r="1.65"/><circle cx="102.1" cy="385.3" r="1.65"/><circle cx="96.0" cy="385.5" r="1.65"/><circle cx="129.4" cy="355.1" r="1.65"/><circle cx="117.1" cy="378.1" r="1.65"/><circle cx="97.2" cy="389.0" r="1.65"/><circle cx="108.7" cy="383.3" r="1.65"/><circle cx="94.4" cy="394.3" r="1.65"/><circle cx="96.9" cy="398.1" r="1.65"/><circle cx="110.2" cy="377.4" r="1.65"/><circle cx="121.0" cy="365.9" r="1.65"/><circle cx="96.9" cy="394.0" r="1.65"/><circle cx="94.5" cy="395.8" r="1.65"/><circle cx="104.1" cy="384.8" r="1.65"/><circle cx="96.0" cy="400.3" r="1.65"/><circle cx="106.2" cy="387.5" r="1.65"/><circle cx="92.1" cy="384.8" r="1.65"/><circle cx="100.9" cy="389.9" r="1.65"/><circle cx="117.4" cy="385.7" r="1.65"/><circle cx="96.5" cy="389.5" r="1.65"/><circle cx="118.7" cy="372.8" r="1.65"/><circle cx="97.8" cy="376.0" r="1.65"/><circle cx="97.7" cy="390.7" r="1.65"/><circle cx="105.2" cy="377.2" r="1.65"/><circle cx="106.7" cy="381.1" r="1.65"/><circle cx="92.9" cy="392.6" r="1.65"/><circle cx="98.8" cy="385.7" r="1.65"/><circle cx="109.1" cy="370.6" r="1.65"/><circle cx="92.7" cy="390.5" r="1.65"/><circle cx="101.1" cy="382.2" r="1.65"/><circle cx="104.9" cy="391.6" r="1.65"/><circle cx="91.2" cy="386.2" r="1.65"/><circle cx="106.3" cy="383.0" r="1.65"/><circle cx="114.1" cy="370.0" r="1.65"/><circle cx="101.7" cy="387.6" r="1.65"/><circle cx="106.3" cy="382.4" r="1.65"/><circle cx="100.3" cy="391.8" r="1.65"/><circle cx="103.8" cy="375.3" r="1.65"/><circle cx="98.2" cy="382.8" r="1.65"/><circle cx="93.9" cy="382.6" r="1.65"/><circle cx="94.7" cy="395.4" r="1.65"/><circle cx="95.7" cy="385.7" r="1.65"/><circle cx="95.4" cy="384.6" r="1.65"/><circle cx="94.7" cy="385.5" r="1.65"/><circle cx="90.1" cy="389.3" r="1.65"/><circle cx="110.9" cy="372.5" r="1.65"/><circle cx="102.2" cy="385.3" r="1.65"/><circle cx="112.7" cy="378.2" r="1.65"/><circle cx="93.5" cy="393.8" r="1.65"/><circle cx="98.3" cy="395.8" r="1.65"/><circle cx="96.0" cy="385.7" r="1.65"/><circle cx="109.8" cy="374.3" r="1.65"/><circle cx="129.8" cy="356.5" r="1.65"/><circle cx="104.5" cy="386.1" r="1.65"/><circle cx="128.5" cy="356.9" r="1.65"/><circle cx="130.1" cy="351.4" r="1.65"/><circle cx="87.9" cy="392.8" r="1.65"/><circle cx="92.9" cy="387.7" r="1.65"/><circle cx="114.1" cy="371.6" r="1.65"/><circle cx="102.8" cy="393.7" r="1.65"/><circle cx="120.4" cy="371.2" r="1.65"/><circle cx="92.9" cy="397.2" r="1.65"/><circle cx="100.6" cy="382.6" r="1.65"/><circle cx="115.4" cy="371.8" r="1.65"/><circle cx="93.4" cy="385.4" r="1.65"/><circle cx="107.0" cy="380.6" r="1.65"/><circle cx="92.6" cy="396.6" r="1.65"/><circle cx="97.5" cy="386.8" r="1.65"/><circle cx="114.6" cy="370.4" r="1.65"/><circle cx="102.6" cy="378.5" r="1.65"/><circle cx="96.0" cy="385.8" r="1.65"/><circle cx="96.3" cy="384.2" r="1.65"/><circle cx="103.9" cy="377.1" r="1.65"/><circle cx="103.9" cy="372.6" r="1.65"/><circle cx="117.0" cy="362.7" r="1.65"/><circle cx="98.4" cy="384.7" r="1.65"/><circle cx="90.2" cy="394.1" r="1.65"/><circle cx="98.1" cy="378.9" r="1.65"/><circle cx="100.0" cy="388.4" r="1.65"/><circle cx="91.1" cy="393.4" r="1.65"/><circle cx="94.3" cy="395.0" r="1.65"/><circle cx="105.2" cy="378.9" r="1.65"/><circle cx="111.6" cy="377.3" r="1.65"/><circle cx="98.4" cy="391.2" r="1.65"/><circle cx="89.0" cy="395.8" r="1.65"/><circle cx="96.9" cy="393.1" r="1.65"/><circle cx="125.6" cy="350.1" r="1.65"/><circle cx="119.9" cy="349.6" r="1.65"/><circle cx="97.8" cy="386.1" r="1.65"/><circle cx="102.4" cy="388.3" r="1.65"/><circle cx="100.1" cy="385.9" r="1.65"/><circle cx="106.1" cy="377.7" r="1.65"/><circle cx="116.2" cy="349.1" r="1.65"/><circle cx="108.6" cy="386.0" r="1.65"/><circle cx="95.2" cy="393.0" r="1.65"/><circle cx="114.3" cy="372.8" r="1.65"/><circle cx="101.7" cy="382.8" r="1.65"/><circle cx="101.9" cy="383.2" r="1.65"/><circle cx="128.0" cy="354.2" r="1.65"/><circle cx="100.5" cy="391.3" r="1.65"/><circle cx="106.8" cy="382.8" r="1.65"/><circle cx="108.6" cy="369.9" r="1.65"/><circle cx="100.4" cy="390.5" r="1.65"/><circle cx="96.3" cy="391.9" r="1.65"/><circle cx="92.8" cy="381.3" r="1.65"/><circle cx="114.3" cy="374.3" r="1.65"/><circle cx="95.1" cy="385.1" r="1.65"/><circle cx="112.3" cy="375.8" r="1.65"/><circle cx="97.6" cy="385.0" r="1.65"/><circle cx="112.5" cy="372.2" r="1.65"/><circle cx="94.3" cy="396.5" r="1.65"/><circle cx="98.8" cy="381.6" r="1.65"/><circle cx="105.4" cy="377.2" r="1.65"/><circle cx="92.1" cy="392.5" r="1.65"/><circle cx="98.9" cy="391.4" r="1.65"/><circle cx="104.5" cy="382.4" r="1.65"/><circle cx="93.9" cy="387.8" r="1.65"/><circle cx="105.3" cy="375.0" r="1.65"/><circle cx="106.9" cy="390.3" r="1.65"/><circle cx="103.9" cy="376.9" r="1.65"/><circle cx="93.8" cy="394.9" r="1.65"/><circle cx="95.5" cy="388.8" r="1.65"/><circle cx="88.9" cy="397.0" r="1.65"/><circle cx="111.5" cy="367.3" r="1.65"/><circle cx="96.9" cy="394.1" r="1.65"/><circle cx="107.5" cy="366.9" r="1.65"/><circle cx="93.8" cy="393.6" r="1.65"/><circle cx="117.4" cy="385.6" r="1.65"/><circle cx="100.5" cy="373.7" r="1.65"/><circle cx="106.9" cy="367.1" r="1.65"/><circle cx="93.6" cy="389.3" r="1.65"/><circle cx="95.6" cy="396.2" r="1.65"/><circle cx="96.0" cy="392.3" r="1.65"/><circle cx="96.2" cy="381.3" r="1.65"/><circle cx="113.0" cy="371.3" r="1.65"/><circle cx="99.5" cy="386.9" r="1.65"/><circle cx="104.2" cy="381.2" r="1.65"/><circle cx="95.7" cy="392.0" r="1.65"/><circle cx="115.2" cy="374.8" r="1.65"/><circle cx="91.7" cy="394.5" r="1.65"/><circle cx="96.6" cy="391.1" r="1.65"/><circle cx="95.1" cy="392.2" r="1.65"/><circle cx="105.5" cy="384.9" r="1.65"/><circle cx="86.5" cy="401.3" r="1.65"/><circle cx="92.8" cy="401.3" r="1.65"/><circle cx="90.1" cy="401.3" r="1.65"/><circle cx="86.6" cy="401.3" r="1.65"/><circle cx="91.5" cy="401.3" r="1.65"/><circle cx="97.3" cy="401.3" r="1.65"/><circle cx="86.9" cy="401.3" r="1.65"/><circle cx="88.0" cy="401.3" r="1.65"/><circle cx="194.4" cy="277.5" r="1.65"/><circle cx="200.7" cy="287.4" r="1.65"/><circle cx="211.8" cy="286.2" r="1.65"/><circle cx="148.3" cy="308.7" r="1.65"/><circle cx="150.3" cy="314.6" r="1.65"/><circle cx="175.5" cy="347.3" r="1.65"/><circle cx="162.5" cy="354.0" r="1.65"/><circle cx="136.9" cy="333.1" r="1.65"/><circle cx="141.6" cy="335.1" r="1.65"/><circle cx="133.3" cy="339.4" r="1.65"/><circle cx="143.9" cy="340.2" r="1.65"/><circle cx="137.2" cy="342.6" r="1.65"/><circle cx="150.7" cy="344.5" r="1.65"/><circle cx="130.9" cy="346.5" r="1.65"/><circle cx="125.4" cy="348.5" r="1.65"/><circle cx="132.9" cy="348.9" r="1.65"/><circle cx="138.8" cy="348.9" r="1.65"/><circle cx="126.6" cy="351.2" r="1.65"/><circle cx="118.3" cy="355.6" r="1.65"/><circle cx="124.2" cy="354.8" r="1.65"/><circle cx="130.2" cy="355.2" r="1.65"/><circle cx="138.8" cy="355.6" r="1.65"/><circle cx="145.5" cy="357.5" r="1.65"/><circle cx="139.6" cy="360.7" r="1.65"/><circle cx="99.4" cy="364.2" r="1.65"/><circle cx="97.0" cy="368.2" r="1.65"/><circle cx="114.0" cy="399.7" r="1.65"/><circle cx="89.5" cy="378.8" r="1.65"/><circle cx="125.0" cy="381.6" r="1.65"/><circle cx="127.8" cy="381.6" r="1.65"/><circle cx="132.1" cy="369.8" r="1.65"/><circle cx="129.8" cy="366.6" r="1.65"/><circle cx="123.1" cy="372.9" r="1.65"/></g>
<text transform="translate(81.70,408.60) scale(0.86,1)" font-size="16.6" text-anchor="end" font-weight="normal" fill="#000" stroke="#000" stroke-width="0.28">0</text>
<text transform="translate(86.80,418.25) scale(0.86,1)" font-size="16.6" text-anchor="middle" font-weight="normal" fill="#000" stroke="#000" stroke-width="0.28">0</text>
<text transform="translate(81.70,329.00) scale(0.86,1)" font-size="16.6" text-anchor="end" font-weight="normal" fill="#000" stroke="#000" stroke-width="0.28">200</text>
<text transform="translate(165.98,418.25) scale(0.86,1)" font-size="16.6" text-anchor="middle" font-weight="normal" fill="#000" stroke="#000" stroke-width="0.28">200</text>
<text transform="translate(81.70,249.40) scale(0.86,1)" font-size="16.6" text-anchor="end" font-weight="normal" fill="#000" stroke="#000" stroke-width="0.28">400</text>
<text transform="translate(245.16,418.25) scale(0.86,1)" font-size="16.6" text-anchor="middle" font-weight="normal" fill="#000" stroke="#000" stroke-width="0.28">400</text>
<path d="M288.00 243.60V401.30H445.70M288.00 381.59h5.3M307.71 401.30v-5.3M288.00 361.88h5.3M327.43 401.30v-5.3M288.00 342.16h5.3M347.14 401.30v-5.3M288.00 322.45h5.3M366.85 401.30v-5.3M288.00 302.74h5.3M386.56 401.30v-5.3M288.00 283.03h5.3M406.27 401.30v-5.3M288.00 263.31h5.3M425.99 401.30v-5.3M288.00 243.60h5.3M445.70 401.30v-5.3" fill="none" stroke="#222" stroke-width="1.2"/>
<line x1="288.00" y1="401.30" x2="445.70" y2="243.60" stroke="#1a1a1a" stroke-width="1.2" stroke-dasharray="2.05 1.92"/>
<g fill="#2394FB"><circle cx="309.7" cy="373.0" r="1.65"/><circle cx="298.0" cy="391.0" r="1.65"/><circle cx="301.0" cy="378.3" r="1.65"/><circle cx="302.5" cy="377.1" r="1.65"/><circle cx="314.4" cy="382.2" r="1.65"/><circle cx="298.4" cy="386.6" r="1.65"/><circle cx="304.0" cy="395.3" r="1.65"/><circle cx="319.4" cy="372.7" r="1.65"/><circle cx="308.5" cy="384.0" r="1.65"/><circle cx="295.3" cy="399.8" r="1.65"/><circle cx="295.1" cy="375.8" r="1.65"/><circle cx="297.8" cy="392.4" r="1.65"/><circle cx="289.1" cy="398.2" r="1.65"/><circle cx="305.1" cy="387.8" r="1.65"/><circle cx="296.1" cy="394.4" r="1.65"/><circle cx="299.0" cy="390.5" r="1.65"/><circle cx="295.8" cy="399.0" r="1.65"/><circle cx="311.1" cy="384.0" r="1.65"/><circle cx="297.8" cy="382.1" r="1.65"/><circle cx="291.0" cy="395.0" r="1.65"/><circle cx="296.3" cy="394.9" r="1.65"/><circle cx="316.3" cy="375.2" r="1.65"/><circle cx="307.0" cy="377.8" r="1.65"/><circle cx="311.6" cy="377.7" r="1.65"/><circle cx="317.4" cy="388.4" r="1.65"/><circle cx="325.4" cy="363.7" r="1.65"/><circle cx="294.5" cy="391.8" r="1.65"/><circle cx="300.8" cy="391.0" r="1.65"/><circle cx="315.7" cy="378.0" r="1.65"/><circle cx="289.1" cy="393.7" r="1.65"/><circle cx="298.2" cy="387.9" r="1.65"/><circle cx="308.7" cy="380.0" r="1.65"/><circle cx="308.8" cy="378.5" r="1.65"/><circle cx="298.3" cy="388.3" r="1.65"/><circle cx="322.4" cy="359.4" r="1.65"/><circle cx="310.3" cy="386.8" r="1.65"/><circle cx="310.1" cy="381.0" r="1.65"/><circle cx="318.6" cy="371.7" r="1.65"/><circle cx="327.5" cy="373.9" r="1.65"/><circle cx="323.3" cy="370.3" r="1.65"/><circle cx="304.3" cy="382.0" r="1.65"/><circle cx="303.0" cy="384.1" r="1.65"/><circle cx="293.2" cy="400.0" r="1.65"/><circle cx="293.6" cy="398.1" r="1.65"/><circle cx="295.2" cy="394.6" r="1.65"/><circle cx="316.1" cy="369.7" r="1.65"/><circle cx="309.3" cy="376.7" r="1.65"/><circle cx="327.5" cy="368.0" r="1.65"/><circle cx="288.9" cy="390.6" r="1.65"/><circle cx="296.2" cy="400.3" r="1.65"/><circle cx="289.6" cy="394.1" r="1.65"/><circle cx="297.4" cy="382.8" r="1.65"/><circle cx="297.8" cy="393.3" r="1.65"/><circle cx="297.3" cy="390.8" r="1.65"/><circle cx="315.6" cy="365.3" r="1.65"/><circle cx="297.6" cy="389.3" r="1.65"/><circle cx="291.7" cy="390.7" r="1.65"/><circle cx="318.6" cy="369.8" r="1.65"/><circle cx="301.0" cy="381.4" r="1.65"/><circle cx="297.2" cy="396.0" r="1.65"/><circle cx="309.5" cy="382.5" r="1.65"/><circle cx="299.1" cy="395.3" r="1.65"/><circle cx="290.5" cy="391.9" r="1.65"/><circle cx="290.2" cy="392.4" r="1.65"/><circle cx="317.4" cy="379.2" r="1.65"/><circle cx="307.3" cy="364.3" r="1.65"/><circle cx="297.1" cy="392.1" r="1.65"/><circle cx="305.3" cy="384.3" r="1.65"/><circle cx="292.7" cy="376.8" r="1.65"/><circle cx="297.8" cy="388.5" r="1.65"/><circle cx="292.2" cy="393.2" r="1.65"/><circle cx="293.4" cy="391.2" r="1.65"/><circle cx="295.9" cy="395.3" r="1.65"/><circle cx="299.8" cy="388.5" r="1.65"/><circle cx="293.2" cy="389.1" r="1.65"/><circle cx="300.7" cy="393.7" r="1.65"/><circle cx="294.4" cy="387.9" r="1.65"/><circle cx="300.4" cy="385.9" r="1.65"/><circle cx="317.8" cy="378.9" r="1.65"/><circle cx="314.5" cy="375.4" r="1.65"/><circle cx="308.1" cy="394.1" r="1.65"/><circle cx="296.9" cy="383.6" r="1.65"/><circle cx="301.1" cy="386.5" r="1.65"/><circle cx="308.6" cy="379.0" r="1.65"/><circle cx="298.7" cy="392.7" r="1.65"/><circle cx="294.6" cy="391.4" r="1.65"/><circle cx="316.5" cy="376.8" r="1.65"/><circle cx="301.6" cy="392.4" r="1.65"/><circle cx="311.3" cy="383.1" r="1.65"/><circle cx="296.9" cy="391.9" r="1.65"/><circle cx="318.6" cy="376.4" r="1.65"/><circle cx="306.5" cy="383.9" r="1.65"/><circle cx="312.6" cy="380.7" r="1.65"/><circle cx="297.0" cy="392.6" r="1.65"/><circle cx="296.5" cy="377.7" r="1.65"/><circle cx="304.7" cy="382.5" r="1.65"/><circle cx="303.3" cy="380.9" r="1.65"/><circle cx="298.8" cy="397.0" r="1.65"/><circle cx="299.5" cy="386.6" r="1.65"/><circle cx="292.9" cy="392.1" r="1.65"/><circle cx="320.6" cy="360.5" r="1.65"/><circle cx="311.1" cy="393.8" r="1.65"/><circle cx="305.3" cy="365.4" r="1.65"/><circle cx="303.4" cy="384.4" r="1.65"/><circle cx="314.8" cy="376.9" r="1.65"/><circle cx="307.1" cy="384.9" r="1.65"/><circle cx="298.6" cy="385.7" r="1.65"/><circle cx="294.4" cy="391.2" r="1.65"/><circle cx="314.2" cy="371.0" r="1.65"/><circle cx="298.4" cy="388.7" r="1.65"/><circle cx="311.4" cy="378.8" r="1.65"/><circle cx="295.0" cy="391.7" r="1.65"/><circle cx="304.2" cy="391.9" r="1.65"/><circle cx="303.0" cy="386.3" r="1.65"/><circle cx="303.8" cy="389.3" r="1.65"/><circle cx="299.0" cy="385.8" r="1.65"/><circle cx="301.2" cy="388.8" r="1.65"/><circle cx="299.1" cy="389.1" r="1.65"/><circle cx="308.4" cy="385.9" r="1.65"/><circle cx="293.4" cy="400.5" r="1.65"/><circle cx="302.6" cy="383.8" r="1.65"/><circle cx="308.0" cy="391.6" r="1.65"/><circle cx="312.5" cy="375.9" r="1.65"/><circle cx="302.8" cy="388.7" r="1.65"/><circle cx="324.6" cy="372.3" r="1.65"/><circle cx="289.9" cy="391.0" r="1.65"/><circle cx="291.4" cy="393.3" r="1.65"/><circle cx="311.8" cy="362.7" r="1.65"/><circle cx="312.5" cy="370.4" r="1.65"/><circle cx="294.7" cy="399.5" r="1.65"/><circle cx="297.4" cy="387.2" r="1.65"/><circle cx="290.2" cy="399.5" r="1.65"/><circle cx="296.6" cy="387.5" r="1.65"/><circle cx="302.0" cy="380.6" r="1.65"/><circle cx="295.3" cy="392.0" r="1.65"/><circle cx="309.4" cy="386.0" r="1.65"/><circle cx="306.6" cy="379.2" r="1.65"/><circle cx="294.2" cy="399.3" r="1.65"/><circle cx="307.5" cy="381.7" r="1.65"/><circle cx="298.9" cy="391.8" r="1.65"/><circle cx="316.0" cy="356.1" r="1.65"/><circle cx="308.8" cy="391.3" r="1.65"/><circle cx="290.6" cy="395.2" r="1.65"/><circle cx="309.3" cy="376.3" r="1.65"/><circle cx="309.1" cy="380.6" r="1.65"/><circle cx="326.2" cy="366.7" r="1.65"/><circle cx="302.0" cy="393.8" r="1.65"/><circle cx="292.2" cy="394.2" r="1.65"/><circle cx="308.8" cy="393.9" r="1.65"/><circle cx="298.0" cy="391.8" r="1.65"/><circle cx="293.3" cy="398.1" r="1.65"/><circle cx="292.1" cy="397.8" r="1.65"/><circle cx="305.0" cy="377.8" r="1.65"/><circle cx="304.0" cy="378.6" r="1.65"/><circle cx="324.9" cy="365.8" r="1.65"/><circle cx="304.0" cy="390.5" r="1.65"/><circle cx="293.9" cy="389.5" r="1.65"/><circle cx="293.6" cy="396.0" r="1.65"/><circle cx="316.5" cy="378.9" r="1.65"/><circle cx="298.2" cy="390.3" r="1.65"/><circle cx="307.5" cy="388.0" r="1.65"/><circle cx="306.5" cy="377.8" r="1.65"/><circle cx="296.9" cy="390.0" r="1.65"/><circle cx="313.0" cy="384.2" r="1.65"/><circle cx="293.6" cy="383.4" r="1.65"/><circle cx="295.1" cy="389.4" r="1.65"/><circle cx="294.0" cy="385.6" r="1.65"/><circle cx="312.2" cy="387.0" r="1.65"/><circle cx="310.1" cy="381.5" r="1.65"/><circle cx="288.7" cy="395.1" r="1.65"/><circle cx="292.2" cy="392.5" r="1.65"/><circle cx="300.7" cy="389.4" r="1.65"/><circle cx="296.5" cy="394.8" r="1.65"/><circle cx="297.0" cy="386.8" r="1.65"/><circle cx="296.7" cy="396.1" r="1.65"/><circle cx="301.5" cy="381.1" r="1.65"/><circle cx="293.1" cy="391.8" r="1.65"/><circle cx="303.4" cy="382.3" r="1.65"/><circle cx="293.5" cy="390.1" r="1.65"/><circle cx="302.5" cy="397.3" r="1.65"/><circle cx="290.5" cy="398.7" r="1.65"/><circle cx="308.3" cy="388.5" r="1.65"/><circle cx="298.4" cy="393.7" r="1.65"/><circle cx="292.3" cy="391.5" r="1.65"/><circle cx="304.3" cy="382.3" r="1.65"/><circle cx="305.6" cy="401.3" r="1.65"/><circle cx="290.4" cy="401.3" r="1.65"/><circle cx="299.7" cy="401.3" r="1.65"/><circle cx="293.2" cy="401.3" r="1.65"/><circle cx="300.1" cy="401.3" r="1.65"/><circle cx="303.6" cy="401.3" r="1.65"/><circle cx="302.2" cy="401.3" r="1.65"/><circle cx="290.0" cy="401.3" r="1.65"/><circle cx="293.4" cy="401.3" r="1.65"/><circle cx="300.1" cy="401.3" r="1.65"/><circle cx="307.4" cy="401.3" r="1.65"/><circle cx="289.6" cy="401.3" r="1.65"/><circle cx="405.9" cy="257.4" r="1.65"/><circle cx="407.1" cy="266.1" r="1.65"/><circle cx="374.3" cy="300.4" r="1.65"/><circle cx="395.6" cy="296.8" r="1.65"/><circle cx="348.7" cy="323.2" r="1.65"/><circle cx="347.5" cy="326.4" r="1.65"/><circle cx="328.6" cy="329.2" r="1.65"/><circle cx="361.3" cy="330.3" r="1.65"/><circle cx="315.2" cy="333.1" r="1.65"/><circle cx="333.3" cy="334.7" r="1.65"/><circle cx="329.8" cy="336.6" r="1.65"/><circle cx="363.7" cy="337.4" r="1.65"/><circle cx="344.0" cy="337.0" r="1.65"/><circle cx="346.3" cy="339.0" r="1.65"/><circle cx="348.7" cy="339.0" r="1.65"/><circle cx="332.2" cy="341.8" r="1.65"/><circle cx="327.4" cy="344.5" r="1.65"/><circle cx="340.0" cy="344.5" r="1.65"/><circle cx="297.9" cy="347.7" r="1.65"/><circle cx="331.0" cy="346.9" r="1.65"/><circle cx="334.5" cy="348.9" r="1.65"/><circle cx="338.5" cy="348.5" r="1.65"/><circle cx="327.4" cy="348.9" r="1.65"/><circle cx="309.3" cy="350.4" r="1.65"/><circle cx="316.0" cy="350.8" r="1.65"/><circle cx="319.1" cy="351.6" r="1.65"/><circle cx="355.8" cy="350.4" r="1.65"/><circle cx="300.2" cy="354.8" r="1.65"/><circle cx="301.8" cy="357.5" r="1.65"/><circle cx="340.0" cy="355.6" r="1.65"/><circle cx="340.8" cy="357.5" r="1.65"/><circle cx="346.3" cy="357.9" r="1.65"/><circle cx="347.5" cy="359.5" r="1.65"/><circle cx="311.3" cy="359.9" r="1.65"/><circle cx="329.8" cy="358.7" r="1.65"/><circle cx="333.3" cy="361.9" r="1.65"/><circle cx="291.2" cy="369.4" r="1.65"/><circle cx="347.1" cy="385.9" r="1.65"/><circle cx="319.9" cy="387.5" r="1.65"/><circle cx="318.4" cy="393.4" r="1.65"/><circle cx="323.1" cy="393.4" r="1.65"/><circle cx="308.1" cy="400.9" r="1.65"/><circle cx="335.3" cy="369.8" r="1.65"/><circle cx="332.2" cy="373.7" r="1.65"/><circle cx="327.4" cy="376.9" r="1.65"/><circle cx="325.5" cy="375.7" r="1.65"/><circle cx="321.5" cy="374.5" r="1.65"/></g>
<text transform="translate(283.65,408.60) scale(0.86,1)" font-size="16.6" text-anchor="end" font-weight="normal" fill="#000" stroke="#000" stroke-width="0.28">0</text>
<text transform="translate(288.60,418.25) scale(0.86,1)" font-size="16.6" text-anchor="middle" font-weight="normal" fill="#000" stroke="#000" stroke-width="0.28">0</text>
<text transform="translate(283.65,329.00) scale(0.86,1)" font-size="16.6" text-anchor="end" font-weight="normal" fill="#000" stroke="#000" stroke-width="0.28">200</text>
<text transform="translate(367.78,418.25) scale(0.86,1)" font-size="16.6" text-anchor="middle" font-weight="normal" fill="#000" stroke="#000" stroke-width="0.28">200</text>
<text transform="translate(283.65,249.40) scale(0.86,1)" font-size="16.6" text-anchor="end" font-weight="normal" fill="#000" stroke="#000" stroke-width="0.28">400</text>
<text transform="translate(446.96,418.25) scale(0.86,1)" font-size="16.6" text-anchor="middle" font-weight="normal" fill="#000" stroke="#000" stroke-width="0.28">400</text>
<text transform="translate(26.2,371.65) rotate(-90)" font-size="17.3" fill="#000" stroke="#000" stroke-width="0.28" textLength="96.5" lengthAdjust="spacingAndGlyphs">Firing rate with</text>
<text transform="translate(47.9,406.65) rotate(-90)" font-size="17.3" fill="#000" stroke="#000" stroke-width="0.28" textLength="166.5" lengthAdjust="spacingAndGlyphs">microsaccades (spikes/s)</text>
<path d="M566.47 248.30V318.50M566.47 334.90V405.30" stroke="#000" stroke-width="1.0" fill="none"/>
<g fill="#33C8FD" stroke="#0c4560" stroke-width="0.5"><rect x="543.00" y="296.60" width="4.78" height="21.90"/><rect x="547.77" y="311.30" width="4.78" height="7.20"/><rect x="552.55" y="302.40" width="4.78" height="16.10"/><rect x="557.33" y="271.10" width="4.78" height="47.40"/><rect x="562.10" y="263.50" width="4.78" height="55.00"/><rect x="566.88" y="257.20" width="4.78" height="61.30"/><rect x="571.65" y="290.50" width="4.78" height="28.00"/><rect x="576.42" y="302.40" width="4.78" height="16.10"/><rect x="581.20" y="316.50" width="4.78" height="2.00"/><rect x="585.98" y="311.30" width="4.78" height="7.20"/><rect x="600.30" y="313.40" width="4.78" height="5.10"/><rect x="605.08" y="316.30" width="4.78" height="2.20"/></g>
<g fill="#2394FB" stroke="#0b3270" stroke-width="0.5"><rect x="543.00" y="334.90" width="4.78" height="25.50"/><rect x="547.77" y="334.90" width="4.78" height="7.90"/><rect x="552.55" y="334.90" width="4.78" height="16.60"/><rect x="557.33" y="334.90" width="4.78" height="34.60"/><rect x="562.10" y="334.90" width="4.78" height="40.40"/><rect x="566.88" y="334.90" width="4.78" height="58.40"/><rect x="571.65" y="334.90" width="4.78" height="33.90"/><rect x="576.42" y="334.90" width="4.78" height="14.60"/><rect x="581.20" y="334.90" width="4.78" height="16.60"/><rect x="585.98" y="334.90" width="4.78" height="7.30"/><rect x="590.75" y="334.90" width="4.78" height="2.00"/><rect x="595.52" y="334.90" width="4.78" height="4.20"/><rect x="600.30" y="334.90" width="4.78" height="5.80"/><rect x="605.08" y="334.90" width="4.78" height="2.00"/><rect x="609.85" y="334.90" width="4.78" height="2.00"/></g>
<path d="M567.10 248.50V318.50M571.20 334.90V405.90" stroke="#f5101c" stroke-width="1.0" fill="none"/>
<path d="M562.60 241.50h9l-4.5 7z" fill="#fb0d1b"/>
<path d="M566.70 412.90h9l-4.5 -7z" fill="#fb0d1b"/>
<path d="M542.40 318.50H614.61M542.40 334.90H614.61M542.40 318.50v-2.2M542.40 334.90v2.2M554.43 318.50v-2.2M554.43 334.90v2.2M566.47 318.50v-2.2M566.47 334.90v2.2M578.50 318.50v-2.2M578.50 334.90v2.2M590.54 318.50v-2.2M590.54 334.90v2.2M602.57 318.50v-2.2M602.57 334.90v2.2M614.61 318.50v-2.2M614.61 334.90v2.2" stroke="#000" stroke-width="1.15" fill="none"/>
<text transform="translate(543.20,332.30) scale(0.86,1)" font-size="16.6" text-anchor="middle" font-weight="normal" fill="#000" stroke="#000" stroke-width="0.28">0</text>
<text transform="translate(566.78,332.30) scale(0.86,1)" font-size="16.6" text-anchor="middle" font-weight="normal" fill="#000" stroke="#000" stroke-width="0.28">1</text>
<text transform="translate(590.36,332.30) scale(0.86,1)" font-size="16.6" text-anchor="middle" font-weight="normal" fill="#000" stroke="#000" stroke-width="0.28">2</text>
<text transform="translate(613.94,332.30) scale(0.86,1)" font-size="16.6" text-anchor="middle" font-weight="normal" fill="#000" stroke="#000" stroke-width="0.28">3</text>
<path d="M604.50 264.20V292.20" stroke="#111" stroke-width="1.0"/>
<text transform="translate(600.30,284.30) scale(0.87,1)" font-size="16.3" text-anchor="end" font-weight="normal" fill="#000" stroke="#000" stroke-width="0.28">0.1</text>
<path d="M609.20 366.30V395.10" stroke="#111" stroke-width="1.0"/>
<text transform="translate(603.80,387.00) scale(0.87,1)" font-size="16.3" text-anchor="end" font-weight="normal" fill="#000" stroke="#000" stroke-width="0.28">0.1</text>
<text transform="translate(594.60,309.50) scale(0.93,1)" font-size="11.6" text-anchor="start" font-weight="normal" fill="#33C8FD" stroke="#33C8FD" stroke-width="0.28">Brights</text>
<text transform="translate(594.60,356.40) scale(0.93,1)" font-size="11.6" text-anchor="start" font-weight="normal" fill="#2394FB" stroke="#2394FB" stroke-width="0.28">Darks</text>
<text transform="translate(531.2,409.85) rotate(-90)" font-size="17.4" fill="#000" stroke="#000" stroke-width="0.28" textLength="163" lengthAdjust="spacingAndGlyphs">Frequency of occurrence</text>
<text transform="translate(639.0,306.90) rotate(90)" font-size="12" fill="#000" stroke="#000" stroke-width="0.2" textLength="40.6" lengthAdjust="spacingAndGlyphs">p=0.223</text>
<text transform="translate(666.0,257.15) rotate(90)" font-size="25.5" font-weight="bold" fill="#000" textLength="138.0" lengthAdjust="spacingAndGlyphs">10% contrast</text>
<path d="M85.60 445.70V603.40H243.30M85.60 583.69h5.3M105.31 603.40v-5.3M85.60 563.98h5.3M125.02 603.40v-5.3M85.60 544.26h5.3M144.74 603.40v-5.3M85.60 524.55h5.3M164.45 603.40v-5.3M85.60 504.84h5.3M184.16 603.40v-5.3M85.60 485.12h5.3M203.88 603.40v-5.3M85.60 465.41h5.3M223.59 603.40v-5.3M85.60 445.70h5.3M243.30 603.40v-5.3" fill="none" stroke="#222" stroke-width="1.2"/>
<line x1="85.60" y1="603.40" x2="243.30" y2="445.70" stroke="#1a1a1a" stroke-width="1.2" stroke-dasharray="2.05 1.92"/>
<g fill="#33C8FD"><circle cx="108.2" cy="577.0" r="1.65"/><circle cx="129.1" cy="566.7" r="1.65"/><circle cx="101.2" cy="586.8" r="1.65"/><circle cx="106.4" cy="568.2" r="1.65"/><circle cx="98.8" cy="588.2" r="1.65"/><circle cx="97.1" cy="587.3" r="1.65"/><circle cx="102.5" cy="583.1" r="1.65"/><circle cx="128.2" cy="578.8" r="1.65"/><circle cx="92.8" cy="590.4" r="1.65"/><circle cx="96.1" cy="599.9" r="1.65"/><circle cx="95.2" cy="584.3" r="1.65"/><circle cx="129.1" cy="561.5" r="1.65"/><circle cx="132.8" cy="563.9" r="1.65"/><circle cx="129.9" cy="563.3" r="1.65"/><circle cx="96.7" cy="591.4" r="1.65"/><circle cx="100.9" cy="583.1" r="1.65"/><circle cx="106.4" cy="586.1" r="1.65"/><circle cx="105.5" cy="592.0" r="1.65"/><circle cx="114.4" cy="556.2" r="1.65"/><circle cx="103.5" cy="589.1" r="1.65"/><circle cx="114.3" cy="579.3" r="1.65"/><circle cx="122.7" cy="552.5" r="1.65"/><circle cx="87.4" cy="599.4" r="1.65"/><circle cx="124.9" cy="562.0" r="1.65"/><circle cx="110.3" cy="580.4" r="1.65"/><circle cx="98.0" cy="586.8" r="1.65"/><circle cx="107.1" cy="575.8" r="1.65"/><circle cx="112.8" cy="571.5" r="1.65"/><circle cx="107.6" cy="571.6" r="1.65"/><circle cx="88.2" cy="595.7" r="1.65"/><circle cx="92.6" cy="591.0" r="1.65"/><circle cx="96.9" cy="593.1" r="1.65"/><circle cx="112.7" cy="582.3" r="1.65"/><circle cx="92.9" cy="591.8" r="1.65"/><circle cx="102.9" cy="585.4" r="1.65"/><circle cx="90.4" cy="593.6" r="1.65"/><circle cx="96.9" cy="584.3" r="1.65"/><circle cx="94.2" cy="599.1" r="1.65"/><circle cx="105.7" cy="588.8" r="1.65"/><circle cx="106.0" cy="573.3" r="1.65"/><circle cx="102.0" cy="579.4" r="1.65"/><circle cx="102.1" cy="590.3" r="1.65"/><circle cx="92.5" cy="598.8" r="1.65"/><circle cx="106.5" cy="589.4" r="1.65"/><circle cx="92.9" cy="583.4" r="1.65"/><circle cx="95.6" cy="596.2" r="1.65"/><circle cx="112.4" cy="585.2" r="1.65"/><circle cx="106.8" cy="573.1" r="1.65"/><circle cx="124.1" cy="572.7" r="1.65"/><circle cx="125.6" cy="564.6" r="1.65"/><circle cx="101.8" cy="589.0" r="1.65"/><circle cx="101.9" cy="595.2" r="1.65"/><circle cx="106.7" cy="579.6" r="1.65"/><circle cx="96.2" cy="597.1" r="1.65"/><circle cx="117.9" cy="570.9" r="1.65"/><circle cx="97.3" cy="589.4" r="1.65"/><circle cx="93.5" cy="591.7" r="1.65"/><circle cx="99.5" cy="590.3" r="1.65"/><circle cx="94.9" cy="597.7" r="1.65"/><circle cx="94.0" cy="591.3" r="1.65"/><circle cx="106.5" cy="589.2" r="1.65"/><circle cx="102.6" cy="593.7" r="1.65"/><circle cx="125.3" cy="574.9" r="1.65"/><circle cx="121.0" cy="571.5" r="1.65"/><circle cx="102.6" cy="590.8" r="1.65"/><circle cx="110.8" cy="578.3" r="1.65"/><circle cx="134.6" cy="567.5" r="1.65"/><circle cx="91.9" cy="585.8" r="1.65"/><circle cx="91.6" cy="597.0" r="1.65"/><circle cx="106.4" cy="591.6" r="1.65"/><circle cx="97.1" cy="599.7" r="1.65"/><circle cx="118.4" cy="585.6" r="1.65"/><circle cx="113.6" cy="559.7" r="1.65"/><circle cx="101.3" cy="590.8" r="1.65"/><circle cx="120.4" cy="559.2" r="1.65"/><circle cx="99.2" cy="575.9" r="1.65"/><circle cx="110.0" cy="573.0" r="1.65"/><circle cx="89.9" cy="595.5" r="1.65"/><circle cx="106.8" cy="585.8" r="1.65"/><circle cx="104.9" cy="590.7" r="1.65"/><circle cx="96.2" cy="589.6" r="1.65"/><circle cx="99.1" cy="599.3" r="1.65"/><circle cx="111.0" cy="561.2" r="1.65"/><circle cx="123.4" cy="575.6" r="1.65"/><circle cx="107.1" cy="572.5" r="1.65"/><circle cx="109.9" cy="568.3" r="1.65"/><circle cx="101.9" cy="595.2" r="1.65"/><circle cx="100.8" cy="594.2" r="1.65"/><circle cx="99.6" cy="595.8" r="1.65"/><circle cx="135.7" cy="575.5" r="1.65"/><circle cx="87.2" cy="599.4" r="1.65"/><circle cx="89.8" cy="596.0" r="1.65"/><circle cx="100.2" cy="574.9" r="1.65"/><circle cx="91.8" cy="594.5" r="1.65"/><circle cx="112.6" cy="580.2" r="1.65"/><circle cx="92.9" cy="589.4" r="1.65"/><circle cx="94.6" cy="591.6" r="1.65"/><circle cx="92.8" cy="601.4" r="1.65"/><circle cx="90.8" cy="599.5" r="1.65"/><circle cx="109.6" cy="577.1" r="1.65"/><circle cx="112.9" cy="585.0" r="1.65"/><circle cx="96.5" cy="592.6" r="1.65"/><circle cx="108.6" cy="589.4" r="1.65"/><circle cx="113.2" cy="570.9" r="1.65"/><circle cx="101.5" cy="591.0" r="1.65"/><circle cx="94.1" cy="591.9" r="1.65"/><circle cx="103.4" cy="581.3" r="1.65"/><circle cx="91.4" cy="589.1" r="1.65"/><circle cx="101.0" cy="575.3" r="1.65"/><circle cx="117.3" cy="572.9" r="1.65"/><circle cx="86.6" cy="592.5" r="1.65"/><circle cx="115.4" cy="571.0" r="1.65"/><circle cx="95.2" cy="589.2" r="1.65"/><circle cx="87.9" cy="595.2" r="1.65"/><circle cx="98.7" cy="587.5" r="1.65"/><circle cx="95.4" cy="598.6" r="1.65"/><circle cx="102.2" cy="602.3" r="1.65"/><circle cx="101.8" cy="582.7" r="1.65"/><circle cx="96.4" cy="598.0" r="1.65"/><circle cx="97.1" cy="594.1" r="1.65"/><circle cx="91.0" cy="600.5" r="1.65"/><circle cx="127.1" cy="581.0" r="1.65"/><circle cx="124.6" cy="561.7" r="1.65"/><circle cx="95.6" cy="592.3" r="1.65"/><circle cx="129.3" cy="561.0" r="1.65"/><circle cx="91.6" cy="596.8" r="1.65"/><circle cx="115.4" cy="583.5" r="1.65"/><circle cx="95.3" cy="592.5" r="1.65"/><circle cx="91.6" cy="594.7" r="1.65"/><circle cx="101.4" cy="583.7" r="1.65"/><circle cx="111.9" cy="578.8" r="1.65"/><circle cx="103.0" cy="584.3" r="1.65"/><circle cx="112.3" cy="574.8" r="1.65"/><circle cx="107.9" cy="568.0" r="1.65"/><circle cx="94.7" cy="595.5" r="1.65"/><circle cx="97.2" cy="592.5" r="1.65"/><circle cx="95.1" cy="591.0" r="1.65"/><circle cx="117.4" cy="584.6" r="1.65"/><circle cx="95.8" cy="591.1" r="1.65"/><circle cx="91.2" cy="589.5" r="1.65"/><circle cx="90.9" cy="590.4" r="1.65"/><circle cx="111.7" cy="586.4" r="1.65"/><circle cx="108.5" cy="579.7" r="1.65"/><circle cx="106.7" cy="582.2" r="1.65"/><circle cx="127.3" cy="559.2" r="1.65"/><circle cx="104.4" cy="586.6" r="1.65"/><circle cx="103.9" cy="588.0" r="1.65"/><circle cx="100.5" cy="589.4" r="1.65"/><circle cx="106.2" cy="594.2" r="1.65"/><circle cx="109.0" cy="579.0" r="1.65"/><circle cx="92.2" cy="597.1" r="1.65"/><circle cx="118.5" cy="578.4" r="1.65"/><circle cx="101.8" cy="587.4" r="1.65"/><circle cx="112.0" cy="577.5" r="1.65"/><circle cx="120.4" cy="581.9" r="1.65"/><circle cx="98.8" cy="582.9" r="1.65"/><circle cx="95.4" cy="578.7" r="1.65"/><circle cx="98.4" cy="593.0" r="1.65"/><circle cx="90.7" cy="594.4" r="1.65"/><circle cx="128.7" cy="558.4" r="1.65"/><circle cx="99.2" cy="593.9" r="1.65"/><circle cx="103.5" cy="593.8" r="1.65"/><circle cx="119.2" cy="565.2" r="1.65"/><circle cx="95.8" cy="598.9" r="1.65"/><circle cx="101.1" cy="592.3" r="1.65"/><circle cx="102.5" cy="579.2" r="1.65"/><circle cx="112.6" cy="588.7" r="1.65"/><circle cx="108.7" cy="569.1" r="1.65"/><circle cx="93.6" cy="597.6" r="1.65"/><circle cx="113.5" cy="570.1" r="1.65"/><circle cx="109.6" cy="570.3" r="1.65"/><circle cx="118.0" cy="569.6" r="1.65"/><circle cx="88.2" cy="597.0" r="1.65"/><circle cx="91.9" cy="588.9" r="1.65"/><circle cx="109.5" cy="581.0" r="1.65"/><circle cx="109.1" cy="579.9" r="1.65"/><circle cx="99.0" cy="587.3" r="1.65"/><circle cx="89.3" cy="591.8" r="1.65"/><circle cx="98.4" cy="591.8" r="1.65"/><circle cx="95.8" cy="594.6" r="1.65"/><circle cx="109.7" cy="570.1" r="1.65"/><circle cx="134.2" cy="557.2" r="1.65"/><circle cx="114.7" cy="578.9" r="1.65"/><circle cx="110.8" cy="574.8" r="1.65"/><circle cx="110.0" cy="575.1" r="1.65"/><circle cx="90.8" cy="587.0" r="1.65"/><circle cx="93.1" cy="594.6" r="1.65"/><circle cx="96.6" cy="584.8" r="1.65"/><circle cx="93.1" cy="587.8" r="1.65"/><circle cx="105.3" cy="582.7" r="1.65"/><circle cx="91.2" cy="603.4" r="1.65"/><circle cx="92.8" cy="603.4" r="1.65"/><circle cx="99.4" cy="603.4" r="1.65"/><circle cx="90.2" cy="603.4" r="1.65"/><circle cx="89.7" cy="603.4" r="1.65"/><circle cx="90.1" cy="603.4" r="1.65"/><circle cx="92.9" cy="603.4" r="1.65"/><circle cx="92.6" cy="603.4" r="1.65"/><circle cx="97.3" cy="603.4" r="1.65"/><circle cx="94.4" cy="603.4" r="1.65"/><circle cx="212.5" cy="477.6" r="1.65"/><circle cx="200.7" cy="491.4" r="1.65"/><circle cx="198.0" cy="530.5" r="1.65"/><circle cx="133.7" cy="525.3" r="1.65"/><circle cx="140.8" cy="527.7" r="1.65"/><circle cx="119.5" cy="530.1" r="1.65"/><circle cx="154.2" cy="532.4" r="1.65"/><circle cx="167.2" cy="532.4" r="1.65"/><circle cx="171.2" cy="531.6" r="1.65"/><circle cx="134.1" cy="536.0" r="1.65"/><circle cx="142.4" cy="534.8" r="1.65"/><circle cx="141.6" cy="538.0" r="1.65"/><circle cx="151.0" cy="538.7" r="1.65"/><circle cx="151.8" cy="542.7" r="1.65"/><circle cx="104.9" cy="545.4" r="1.65"/><circle cx="136.9" cy="545.4" r="1.65"/><circle cx="151.8" cy="548.2" r="1.65"/><circle cx="157.4" cy="549.4" r="1.65"/><circle cx="143.6" cy="550.6" r="1.65"/><circle cx="138.4" cy="552.9" r="1.65"/><circle cx="129.0" cy="553.7" r="1.65"/><circle cx="142.4" cy="557.3" r="1.65"/><circle cx="107.7" cy="556.9" r="1.65"/><circle cx="147.9" cy="561.6" r="1.65"/><circle cx="100.2" cy="562.8" r="1.65"/><circle cx="134.9" cy="573.4" r="1.65"/><circle cx="132.1" cy="574.2" r="1.65"/><circle cx="91.1" cy="575.4" r="1.65"/><circle cx="89.9" cy="579.7" r="1.65"/><circle cx="119.9" cy="595.9" r="1.65"/><circle cx="122.7" cy="603.4" r="1.65"/></g>
<text transform="translate(81.70,610.25) scale(0.86,1)" font-size="16.6" text-anchor="end" font-weight="normal" fill="#000" stroke="#000" stroke-width="0.28">0</text>
<text transform="translate(86.80,619.90) scale(0.86,1)" font-size="16.6" text-anchor="middle" font-weight="normal" fill="#000" stroke="#000" stroke-width="0.28">0</text>
<text transform="translate(81.70,530.65) scale(0.86,1)" font-size="16.6" text-anchor="end" font-weight="normal" fill="#000" stroke="#000" stroke-width="0.28">200</text>
<text transform="translate(165.98,619.90) scale(0.86,1)" font-size="16.6" text-anchor="middle" font-weight="normal" fill="#000" stroke="#000" stroke-width="0.28">200</text>
<text transform="translate(81.70,451.05) scale(0.86,1)" font-size="16.6" text-anchor="end" font-weight="normal" fill="#000" stroke="#000" stroke-width="0.28">400</text>
<text transform="translate(245.16,619.90) scale(0.86,1)" font-size="16.6" text-anchor="middle" font-weight="normal" fill="#000" stroke="#000" stroke-width="0.28">400</text>
<path d="M288.00 445.70V603.40H445.70M288.00 583.69h5.3M307.71 603.40v-5.3M288.00 563.98h5.3M327.43 603.40v-5.3M288.00 544.26h5.3M347.14 603.40v-5.3M288.00 524.55h5.3M366.85 603.40v-5.3M288.00 504.84h5.3M386.56 603.40v-5.3M288.00 485.12h5.3M406.27 603.40v-5.3M288.00 465.41h5.3M425.99 603.40v-5.3M288.00 445.70h5.3M445.70 603.40v-5.3" fill="none" stroke="#222" stroke-width="1.2"/>
<line x1="288.00" y1="603.40" x2="445.70" y2="445.70" stroke="#1a1a1a" stroke-width="1.2" stroke-dasharray="2.05 1.92"/>
<g fill="#2394FB"><circle cx="307.3" cy="572.3" r="1.65"/><circle cx="307.7" cy="590.0" r="1.65"/><circle cx="294.5" cy="595.1" r="1.65"/><circle cx="304.9" cy="584.8" r="1.65"/><circle cx="293.9" cy="593.1" r="1.65"/><circle cx="299.3" cy="586.0" r="1.65"/><circle cx="295.4" cy="597.4" r="1.65"/><circle cx="311.7" cy="566.7" r="1.65"/><circle cx="302.8" cy="595.6" r="1.65"/><circle cx="293.1" cy="594.3" r="1.65"/><circle cx="305.7" cy="587.1" r="1.65"/><circle cx="298.7" cy="593.3" r="1.65"/><circle cx="310.8" cy="576.9" r="1.65"/><circle cx="292.8" cy="598.6" r="1.65"/><circle cx="301.3" cy="594.5" r="1.65"/><circle cx="306.7" cy="577.3" r="1.65"/><circle cx="295.7" cy="589.2" r="1.65"/><circle cx="299.4" cy="593.4" r="1.65"/><circle cx="297.3" cy="592.6" r="1.65"/><circle cx="312.1" cy="584.6" r="1.65"/><circle cx="290.5" cy="597.8" r="1.65"/><circle cx="303.7" cy="596.9" r="1.65"/><circle cx="306.1" cy="585.1" r="1.65"/><circle cx="309.5" cy="578.7" r="1.65"/><circle cx="299.8" cy="593.3" r="1.65"/><circle cx="302.7" cy="591.5" r="1.65"/><circle cx="290.5" cy="596.5" r="1.65"/><circle cx="294.4" cy="591.2" r="1.65"/><circle cx="299.4" cy="591.3" r="1.65"/><circle cx="306.8" cy="580.9" r="1.65"/><circle cx="294.9" cy="593.9" r="1.65"/><circle cx="299.2" cy="596.7" r="1.65"/><circle cx="299.2" cy="592.3" r="1.65"/><circle cx="313.6" cy="585.9" r="1.65"/><circle cx="309.0" cy="574.3" r="1.65"/><circle cx="293.5" cy="597.0" r="1.65"/><circle cx="299.9" cy="590.3" r="1.65"/><circle cx="301.0" cy="584.5" r="1.65"/><circle cx="316.1" cy="582.2" r="1.65"/><circle cx="297.2" cy="596.5" r="1.65"/><circle cx="326.1" cy="571.0" r="1.65"/><circle cx="295.7" cy="597.4" r="1.65"/><circle cx="314.7" cy="576.7" r="1.65"/><circle cx="301.9" cy="594.9" r="1.65"/><circle cx="294.9" cy="596.9" r="1.65"/><circle cx="312.9" cy="581.8" r="1.65"/><circle cx="294.3" cy="602.0" r="1.65"/><circle cx="314.3" cy="577.8" r="1.65"/><circle cx="299.8" cy="593.0" r="1.65"/><circle cx="301.8" cy="585.9" r="1.65"/><circle cx="318.0" cy="574.3" r="1.65"/><circle cx="311.0" cy="576.1" r="1.65"/><circle cx="297.3" cy="591.4" r="1.65"/><circle cx="294.6" cy="599.4" r="1.65"/><circle cx="293.6" cy="595.3" r="1.65"/><circle cx="303.1" cy="590.0" r="1.65"/><circle cx="304.7" cy="584.4" r="1.65"/><circle cx="318.2" cy="581.9" r="1.65"/><circle cx="312.9" cy="564.3" r="1.65"/><circle cx="313.4" cy="580.7" r="1.65"/><circle cx="302.8" cy="597.9" r="1.65"/><circle cx="299.2" cy="588.9" r="1.65"/><circle cx="333.0" cy="565.4" r="1.65"/><circle cx="305.7" cy="577.7" r="1.65"/><circle cx="315.6" cy="573.3" r="1.65"/><circle cx="295.9" cy="592.1" r="1.65"/><circle cx="299.5" cy="591.1" r="1.65"/><circle cx="294.7" cy="594.1" r="1.65"/><circle cx="301.5" cy="589.5" r="1.65"/><circle cx="302.6" cy="591.4" r="1.65"/><circle cx="296.8" cy="593.6" r="1.65"/><circle cx="310.9" cy="579.9" r="1.65"/><circle cx="310.7" cy="567.9" r="1.65"/><circle cx="302.8" cy="581.8" r="1.65"/><circle cx="294.7" cy="598.2" r="1.65"/><circle cx="314.4" cy="576.3" r="1.65"/><circle cx="324.2" cy="570.0" r="1.65"/><circle cx="294.1" cy="594.7" r="1.65"/><circle cx="317.3" cy="561.6" r="1.65"/><circle cx="300.1" cy="593.4" r="1.65"/><circle cx="298.5" cy="596.6" r="1.65"/><circle cx="310.1" cy="582.6" r="1.65"/><circle cx="300.5" cy="592.5" r="1.65"/><circle cx="303.0" cy="579.2" r="1.65"/><circle cx="297.8" cy="591.7" r="1.65"/><circle cx="315.8" cy="583.3" r="1.65"/><circle cx="300.9" cy="595.6" r="1.65"/><circle cx="311.2" cy="576.4" r="1.65"/><circle cx="317.4" cy="568.1" r="1.65"/><circle cx="314.7" cy="573.6" r="1.65"/><circle cx="302.6" cy="591.6" r="1.65"/><circle cx="293.5" cy="596.6" r="1.65"/><circle cx="305.9" cy="583.5" r="1.65"/><circle cx="302.6" cy="583.6" r="1.65"/><circle cx="304.5" cy="581.6" r="1.65"/><circle cx="315.2" cy="574.1" r="1.65"/><circle cx="295.3" cy="597.4" r="1.65"/><circle cx="306.2" cy="585.8" r="1.65"/><circle cx="302.2" cy="591.1" r="1.65"/><circle cx="317.4" cy="576.9" r="1.65"/><circle cx="308.1" cy="577.6" r="1.65"/><circle cx="304.7" cy="586.0" r="1.65"/><circle cx="295.6" cy="594.2" r="1.65"/><circle cx="306.1" cy="575.5" r="1.65"/><circle cx="317.0" cy="567.8" r="1.65"/><circle cx="291.1" cy="592.2" r="1.65"/><circle cx="291.3" cy="594.8" r="1.65"/><circle cx="294.4" cy="594.2" r="1.65"/><circle cx="295.2" cy="591.5" r="1.65"/><circle cx="302.4" cy="585.5" r="1.65"/><circle cx="298.3" cy="590.2" r="1.65"/><circle cx="306.6" cy="586.9" r="1.65"/><circle cx="306.0" cy="586.8" r="1.65"/><circle cx="295.0" cy="590.1" r="1.65"/><circle cx="298.8" cy="586.7" r="1.65"/><circle cx="298.1" cy="590.2" r="1.65"/><circle cx="297.3" cy="593.6" r="1.65"/><circle cx="305.0" cy="592.7" r="1.65"/><circle cx="290.3" cy="597.9" r="1.65"/><circle cx="307.5" cy="578.0" r="1.65"/><circle cx="329.1" cy="561.9" r="1.65"/><circle cx="300.9" cy="592.5" r="1.65"/><circle cx="300.9" cy="586.6" r="1.65"/><circle cx="301.1" cy="594.6" r="1.65"/><circle cx="297.5" cy="590.1" r="1.65"/><circle cx="323.3" cy="567.6" r="1.65"/><circle cx="316.8" cy="582.7" r="1.65"/><circle cx="306.2" cy="582.0" r="1.65"/><circle cx="330.5" cy="564.8" r="1.65"/><circle cx="307.4" cy="571.1" r="1.65"/><circle cx="306.0" cy="581.1" r="1.65"/><circle cx="300.5" cy="588.3" r="1.65"/><circle cx="302.3" cy="596.5" r="1.65"/><circle cx="299.4" cy="591.8" r="1.65"/><circle cx="316.4" cy="571.9" r="1.65"/><circle cx="302.8" cy="583.7" r="1.65"/><circle cx="305.7" cy="595.1" r="1.65"/><circle cx="301.6" cy="590.9" r="1.65"/><circle cx="309.6" cy="581.7" r="1.65"/><circle cx="311.0" cy="588.3" r="1.65"/><circle cx="309.5" cy="574.4" r="1.65"/><circle cx="298.6" cy="585.2" r="1.65"/><circle cx="296.8" cy="595.6" r="1.65"/><circle cx="295.6" cy="600.4" r="1.65"/><circle cx="302.2" cy="585.1" r="1.65"/><circle cx="306.1" cy="583.0" r="1.65"/><circle cx="300.4" cy="594.1" r="1.65"/><circle cx="305.3" cy="587.9" r="1.65"/><circle cx="302.5" cy="597.2" r="1.65"/><circle cx="300.1" cy="588.4" r="1.65"/><circle cx="303.0" cy="581.5" r="1.65"/><circle cx="294.1" cy="591.9" r="1.65"/><circle cx="318.4" cy="571.1" r="1.65"/><circle cx="301.8" cy="588.5" r="1.65"/><circle cx="305.5" cy="583.8" r="1.65"/><circle cx="307.5" cy="585.3" r="1.65"/><circle cx="311.4" cy="579.7" r="1.65"/><circle cx="303.7" cy="586.9" r="1.65"/><circle cx="301.6" cy="585.0" r="1.65"/><circle cx="302.7" cy="583.2" r="1.65"/><circle cx="315.3" cy="574.2" r="1.65"/><circle cx="300.1" cy="593.1" r="1.65"/><circle cx="309.8" cy="580.6" r="1.65"/><circle cx="298.6" cy="593.4" r="1.65"/><circle cx="320.1" cy="579.6" r="1.65"/><circle cx="299.1" cy="590.3" r="1.65"/><circle cx="295.2" cy="596.3" r="1.65"/><circle cx="319.3" cy="565.1" r="1.65"/><circle cx="308.8" cy="576.3" r="1.65"/><circle cx="301.3" cy="589.2" r="1.65"/><circle cx="295.7" cy="592.6" r="1.65"/><circle cx="309.3" cy="578.7" r="1.65"/><circle cx="293.8" cy="595.0" r="1.65"/><circle cx="299.8" cy="588.8" r="1.65"/><circle cx="301.6" cy="583.8" r="1.65"/><circle cx="307.1" cy="586.5" r="1.65"/><circle cx="308.9" cy="580.6" r="1.65"/><circle cx="298.7" cy="595.2" r="1.65"/><circle cx="308.8" cy="593.2" r="1.65"/><circle cx="304.5" cy="587.6" r="1.65"/><circle cx="290.5" cy="603.4" r="1.65"/><circle cx="298.3" cy="603.4" r="1.65"/><circle cx="295.1" cy="603.4" r="1.65"/><circle cx="288.9" cy="603.4" r="1.65"/><circle cx="298.2" cy="603.4" r="1.65"/><circle cx="296.8" cy="603.4" r="1.65"/><circle cx="429.5" cy="462.7" r="1.65"/><circle cx="414.2" cy="490.3" r="1.65"/><circle cx="356.2" cy="505.2" r="1.65"/><circle cx="383.8" cy="510.4" r="1.65"/><circle cx="372.8" cy="518.2" r="1.65"/><circle cx="334.1" cy="515.9" r="1.65"/><circle cx="340.4" cy="523.4" r="1.65"/><circle cx="299.8" cy="534.4" r="1.65"/><circle cx="308.1" cy="534.0" r="1.65"/><circle cx="319.1" cy="534.4" r="1.65"/><circle cx="337.7" cy="534.0" r="1.65"/><circle cx="351.5" cy="530.1" r="1.65"/><circle cx="353.4" cy="533.2" r="1.65"/><circle cx="362.9" cy="534.8" r="1.65"/><circle cx="346.7" cy="537.2" r="1.65"/><circle cx="352.3" cy="537.6" r="1.65"/><circle cx="359.8" cy="538.0" r="1.65"/><circle cx="319.1" cy="540.3" r="1.65"/><circle cx="346.7" cy="539.9" r="1.65"/><circle cx="354.6" cy="539.5" r="1.65"/><circle cx="358.2" cy="542.3" r="1.65"/><circle cx="350.7" cy="542.3" r="1.65"/><circle cx="353.4" cy="545.4" r="1.65"/><circle cx="344.8" cy="545.4" r="1.65"/><circle cx="322.3" cy="548.6" r="1.65"/><circle cx="342.0" cy="548.6" r="1.65"/><circle cx="343.2" cy="551.8" r="1.65"/><circle cx="346.7" cy="552.1" r="1.65"/><circle cx="338.5" cy="554.1" r="1.65"/><circle cx="328.6" cy="556.1" r="1.65"/><circle cx="318.4" cy="557.3" r="1.65"/><circle cx="297.1" cy="558.8" r="1.65"/><circle cx="294.3" cy="560.8" r="1.65"/><circle cx="341.2" cy="558.5" r="1.65"/><circle cx="342.8" cy="568.3" r="1.65"/><circle cx="293.1" cy="573.8" r="1.65"/><circle cx="290.8" cy="575.8" r="1.65"/><circle cx="333.3" cy="590.0" r="1.65"/><circle cx="334.5" cy="560.8" r="1.65"/><circle cx="331.4" cy="564.0" r="1.65"/><circle cx="336.1" cy="565.9" r="1.65"/><circle cx="327.4" cy="569.9" r="1.65"/></g>
<text transform="translate(283.65,610.25) scale(0.86,1)" font-size="16.6" text-anchor="end" font-weight="normal" fill="#000" stroke="#000" stroke-width="0.28">0</text>
<text transform="translate(288.60,619.90) scale(0.86,1)" font-size="16.6" text-anchor="middle" font-weight="normal" fill="#000" stroke="#000" stroke-width="0.28">0</text>
<text transform="translate(283.65,530.65) scale(0.86,1)" font-size="16.6" text-anchor="end" font-weight="normal" fill="#000" stroke="#000" stroke-width="0.28">200</text>
<text transform="translate(367.78,619.90) scale(0.86,1)" font-size="16.6" text-anchor="middle" font-weight="normal" fill="#000" stroke="#000" stroke-width="0.28">200</text>
<text transform="translate(283.65,451.05) scale(0.86,1)" font-size="16.6" text-anchor="end" font-weight="normal" fill="#000" stroke="#000" stroke-width="0.28">400</text>
<text transform="translate(446.96,619.90) scale(0.86,1)" font-size="16.6" text-anchor="middle" font-weight="normal" fill="#000" stroke="#000" stroke-width="0.28">400</text>
<text transform="translate(26.2,573.40) rotate(-90)" font-size="17.3" fill="#000" stroke="#000" stroke-width="0.28" textLength="96.5" lengthAdjust="spacingAndGlyphs">Firing rate with</text>
<text transform="translate(47.9,608.40) rotate(-90)" font-size="17.3" fill="#000" stroke="#000" stroke-width="0.28" textLength="166.5" lengthAdjust="spacingAndGlyphs">microsaccades (spikes/s)</text>
<path d="M566.47 449.70V519.90M566.47 536.10V606.50" stroke="#000" stroke-width="1.0" fill="none"/>
<g fill="#33C8FD" stroke="#0c4560" stroke-width="0.5"><rect x="543.00" y="503.50" width="4.78" height="16.40"/><rect x="547.77" y="516.00" width="4.78" height="3.90"/><rect x="552.55" y="508.40" width="4.78" height="11.50"/><rect x="557.33" y="494.50" width="4.78" height="25.40"/><rect x="562.10" y="459.50" width="4.78" height="60.40"/><rect x="566.88" y="470.40" width="4.78" height="49.50"/><rect x="571.65" y="499.60" width="4.78" height="20.30"/><rect x="576.42" y="503.50" width="4.78" height="16.40"/><rect x="581.20" y="514.50" width="4.78" height="5.40"/><rect x="585.98" y="516.00" width="4.78" height="3.90"/><rect x="590.75" y="517.10" width="4.78" height="2.80"/><rect x="605.08" y="517.90" width="4.78" height="2.00"/></g>
<g fill="#2394FB" stroke="#0b3270" stroke-width="0.5"><rect x="543.00" y="536.10" width="4.78" height="8.50"/><rect x="547.77" y="536.10" width="4.78" height="3.80"/><rect x="552.55" y="536.10" width="4.78" height="8.50"/><rect x="557.33" y="536.10" width="4.78" height="34.50"/><rect x="562.10" y="536.10" width="4.78" height="59.60"/><rect x="566.88" y="536.10" width="4.78" height="65.40"/><rect x="571.65" y="536.10" width="4.78" height="30.40"/><rect x="576.42" y="536.10" width="4.78" height="31.50"/><rect x="581.20" y="536.10" width="4.78" height="12.10"/><rect x="585.98" y="536.10" width="4.78" height="6.30"/><rect x="590.75" y="536.10" width="4.78" height="3.10"/><rect x="595.52" y="536.10" width="4.78" height="3.10"/><rect x="605.08" y="536.10" width="4.78" height="3.10"/></g>
<path d="M568.30 449.90V519.90M574.70 536.10V607.10" stroke="#f5101c" stroke-width="1.0" fill="none"/>
<path d="M563.80 442.90h9l-4.5 7z" fill="#fb0d1b"/>
<path d="M570.20 614.10h9l-4.5 -7z" fill="#fb0d1b"/>
<path d="M542.40 519.90H614.61M542.40 536.10H614.61M542.40 519.90v-2.2M542.40 536.10v2.2M554.43 519.90v-2.2M554.43 536.10v2.2M566.47 519.90v-2.2M566.47 536.10v2.2M578.50 519.90v-2.2M578.50 536.10v2.2M590.54 519.90v-2.2M590.54 536.10v2.2M602.57 519.90v-2.2M602.57 536.10v2.2M614.61 519.90v-2.2M614.61 536.10v2.2" stroke="#000" stroke-width="1.15" fill="none"/>
<text transform="translate(543.20,533.70) scale(0.86,1)" font-size="16.6" text-anchor="middle" font-weight="normal" fill="#000" stroke="#000" stroke-width="0.28">0</text>
<text transform="translate(566.78,533.70) scale(0.86,1)" font-size="16.6" text-anchor="middle" font-weight="normal" fill="#000" stroke="#000" stroke-width="0.28">1</text>
<text transform="translate(590.36,533.70) scale(0.86,1)" font-size="16.6" text-anchor="middle" font-weight="normal" fill="#000" stroke="#000" stroke-width="0.28">2</text>
<text transform="translate(613.94,533.70) scale(0.86,1)" font-size="16.6" text-anchor="middle" font-weight="normal" fill="#000" stroke="#000" stroke-width="0.28">3</text>
<path d="M603.60 472.80V496.90" stroke="#111" stroke-width="1.0"/>
<text transform="translate(599.90,490.70) scale(0.87,1)" font-size="16.3" text-anchor="end" font-weight="normal" fill="#000" stroke="#000" stroke-width="0.28">0.1</text>
<path d="M608.40 562.00V590.50" stroke="#111" stroke-width="1.0"/>
<text transform="translate(604.50,582.20) scale(0.87,1)" font-size="16.3" text-anchor="end" font-weight="normal" fill="#000" stroke="#000" stroke-width="0.28">0.1</text>
<text transform="translate(594.60,511.20) scale(0.93,1)" font-size="11.6" text-anchor="start" font-weight="normal" fill="#33C8FD" stroke="#33C8FD" stroke-width="0.28">Brights</text>
<text transform="translate(594.60,554.70) scale(0.93,1)" font-size="11.6" text-anchor="start" font-weight="normal" fill="#2394FB" stroke="#2394FB" stroke-width="0.28">Darks</text>
<text transform="translate(531.2,611.30) rotate(-90)" font-size="17.4" fill="#000" stroke="#000" stroke-width="0.28" textLength="163" lengthAdjust="spacingAndGlyphs">Frequency of occurrence</text>
<text transform="translate(639.0,507.80) rotate(90)" font-size="12" fill="#000" stroke="#000" stroke-width="0.2" textLength="41.0" lengthAdjust="spacingAndGlyphs">p=0.032</text>
<text transform="translate(666.0,458.85) rotate(90)" font-size="25.5" font-weight="bold" fill="#000" textLength="138.2" lengthAdjust="spacingAndGlyphs">20% contrast</text>
<path d="M85.60 647.70V805.40H243.30M85.60 785.69h5.3M105.31 805.40v-5.3M85.60 765.98h5.3M125.02 805.40v-5.3M85.60 746.26h5.3M144.74 805.40v-5.3M85.60 726.55h5.3M164.45 805.40v-5.3M85.60 706.84h5.3M184.16 805.40v-5.3M85.60 687.12h5.3M203.88 805.40v-5.3M85.60 667.41h5.3M223.59 805.40v-5.3M85.60 647.70h5.3M243.30 805.40v-5.3" fill="none" stroke="#222" stroke-width="1.2"/>
<line x1="85.60" y1="805.40" x2="243.30" y2="647.70" stroke="#1a1a1a" stroke-width="1.2" stroke-dasharray="2.05 1.92"/>
<g fill="#33C8FD"><circle cx="106.0" cy="789.6" r="1.65"/><circle cx="110.4" cy="788.4" r="1.65"/><circle cx="125.2" cy="767.3" r="1.65"/><circle cx="93.7" cy="790.5" r="1.65"/><circle cx="118.2" cy="781.8" r="1.65"/><circle cx="105.6" cy="790.2" r="1.65"/><circle cx="98.7" cy="793.1" r="1.65"/><circle cx="95.3" cy="800.9" r="1.65"/><circle cx="102.8" cy="785.8" r="1.65"/><circle cx="98.7" cy="782.6" r="1.65"/><circle cx="109.5" cy="784.0" r="1.65"/><circle cx="103.5" cy="784.8" r="1.65"/><circle cx="106.0" cy="788.5" r="1.65"/><circle cx="105.8" cy="788.8" r="1.65"/><circle cx="102.9" cy="787.9" r="1.65"/><circle cx="95.3" cy="791.1" r="1.65"/><circle cx="93.6" cy="796.3" r="1.65"/><circle cx="94.7" cy="791.3" r="1.65"/><circle cx="121.4" cy="763.9" r="1.65"/><circle cx="103.3" cy="771.0" r="1.65"/><circle cx="101.5" cy="779.4" r="1.65"/><circle cx="125.8" cy="765.2" r="1.65"/><circle cx="111.8" cy="774.6" r="1.65"/><circle cx="118.4" cy="765.6" r="1.65"/><circle cx="96.6" cy="791.1" r="1.65"/><circle cx="125.3" cy="778.3" r="1.65"/><circle cx="98.4" cy="776.2" r="1.65"/><circle cx="90.2" cy="780.3" r="1.65"/><circle cx="122.6" cy="770.2" r="1.65"/><circle cx="100.5" cy="795.0" r="1.65"/><circle cx="90.4" cy="793.1" r="1.65"/><circle cx="109.3" cy="786.7" r="1.65"/><circle cx="104.0" cy="788.8" r="1.65"/><circle cx="99.7" cy="796.7" r="1.65"/><circle cx="88.5" cy="797.2" r="1.65"/><circle cx="119.5" cy="749.6" r="1.65"/><circle cx="104.8" cy="784.2" r="1.65"/><circle cx="119.7" cy="785.6" r="1.65"/><circle cx="108.4" cy="769.1" r="1.65"/><circle cx="98.9" cy="781.0" r="1.65"/><circle cx="134.1" cy="763.6" r="1.65"/><circle cx="102.2" cy="788.1" r="1.65"/><circle cx="93.2" cy="789.1" r="1.65"/><circle cx="106.5" cy="780.0" r="1.65"/><circle cx="97.3" cy="793.8" r="1.65"/><circle cx="115.2" cy="780.6" r="1.65"/><circle cx="102.2" cy="790.9" r="1.65"/><circle cx="122.9" cy="766.7" r="1.65"/><circle cx="99.0" cy="798.9" r="1.65"/><circle cx="123.7" cy="768.5" r="1.65"/><circle cx="105.7" cy="788.2" r="1.65"/><circle cx="103.4" cy="781.8" r="1.65"/><circle cx="112.1" cy="788.2" r="1.65"/><circle cx="106.2" cy="786.5" r="1.65"/><circle cx="114.9" cy="772.9" r="1.65"/><circle cx="96.4" cy="786.7" r="1.65"/><circle cx="94.2" cy="794.8" r="1.65"/><circle cx="108.0" cy="783.5" r="1.65"/><circle cx="107.7" cy="792.0" r="1.65"/><circle cx="97.3" cy="791.5" r="1.65"/><circle cx="99.2" cy="793.4" r="1.65"/><circle cx="99.1" cy="783.9" r="1.65"/><circle cx="116.9" cy="775.6" r="1.65"/><circle cx="93.8" cy="793.6" r="1.65"/><circle cx="130.6" cy="770.7" r="1.65"/><circle cx="99.1" cy="774.7" r="1.65"/><circle cx="98.6" cy="794.4" r="1.65"/><circle cx="109.7" cy="777.1" r="1.65"/><circle cx="105.4" cy="780.4" r="1.65"/><circle cx="105.2" cy="794.3" r="1.65"/><circle cx="114.7" cy="778.5" r="1.65"/><circle cx="93.9" cy="790.9" r="1.65"/><circle cx="111.2" cy="779.3" r="1.65"/><circle cx="91.1" cy="796.5" r="1.65"/><circle cx="112.5" cy="771.4" r="1.65"/><circle cx="106.0" cy="789.0" r="1.65"/><circle cx="106.2" cy="789.4" r="1.65"/><circle cx="101.0" cy="788.1" r="1.65"/><circle cx="100.5" cy="768.0" r="1.65"/><circle cx="105.8" cy="777.6" r="1.65"/><circle cx="124.1" cy="775.3" r="1.65"/><circle cx="91.3" cy="794.8" r="1.65"/><circle cx="112.1" cy="778.0" r="1.65"/><circle cx="110.4" cy="789.7" r="1.65"/><circle cx="94.0" cy="801.3" r="1.65"/><circle cx="92.4" cy="787.0" r="1.65"/><circle cx="96.1" cy="785.3" r="1.65"/><circle cx="105.3" cy="776.4" r="1.65"/><circle cx="96.2" cy="795.2" r="1.65"/><circle cx="103.3" cy="792.3" r="1.65"/><circle cx="111.7" cy="767.4" r="1.65"/><circle cx="128.3" cy="772.2" r="1.65"/><circle cx="94.9" cy="784.9" r="1.65"/><circle cx="101.3" cy="797.3" r="1.65"/><circle cx="99.8" cy="795.6" r="1.65"/><circle cx="115.9" cy="781.2" r="1.65"/><circle cx="103.1" cy="781.8" r="1.65"/><circle cx="123.5" cy="761.0" r="1.65"/><circle cx="96.8" cy="797.0" r="1.65"/><circle cx="103.9" cy="785.1" r="1.65"/><circle cx="120.5" cy="773.9" r="1.65"/><circle cx="102.2" cy="778.6" r="1.65"/><circle cx="99.5" cy="794.0" r="1.65"/><circle cx="91.4" cy="792.4" r="1.65"/><circle cx="102.7" cy="781.4" r="1.65"/><circle cx="108.8" cy="780.2" r="1.65"/><circle cx="99.6" cy="786.4" r="1.65"/><circle cx="103.9" cy="782.1" r="1.65"/><circle cx="96.6" cy="792.6" r="1.65"/><circle cx="94.4" cy="797.1" r="1.65"/><circle cx="121.7" cy="762.3" r="1.65"/><circle cx="110.6" cy="782.2" r="1.65"/><circle cx="120.8" cy="775.5" r="1.65"/><circle cx="98.6" cy="790.5" r="1.65"/><circle cx="117.0" cy="767.7" r="1.65"/><circle cx="103.5" cy="788.3" r="1.65"/><circle cx="106.6" cy="787.0" r="1.65"/><circle cx="101.7" cy="779.8" r="1.65"/><circle cx="93.8" cy="793.5" r="1.65"/><circle cx="109.9" cy="783.3" r="1.65"/><circle cx="110.9" cy="785.6" r="1.65"/><circle cx="109.8" cy="783.7" r="1.65"/><circle cx="117.5" cy="782.4" r="1.65"/><circle cx="92.9" cy="796.7" r="1.65"/><circle cx="103.4" cy="789.1" r="1.65"/><circle cx="115.7" cy="780.1" r="1.65"/><circle cx="99.3" cy="782.0" r="1.65"/><circle cx="100.8" cy="789.4" r="1.65"/><circle cx="94.9" cy="795.2" r="1.65"/><circle cx="97.3" cy="793.4" r="1.65"/><circle cx="105.5" cy="787.2" r="1.65"/><circle cx="100.1" cy="783.8" r="1.65"/><circle cx="98.3" cy="791.8" r="1.65"/><circle cx="110.6" cy="784.6" r="1.65"/><circle cx="109.1" cy="773.0" r="1.65"/><circle cx="103.8" cy="792.3" r="1.65"/><circle cx="117.2" cy="771.4" r="1.65"/><circle cx="109.0" cy="778.6" r="1.65"/><circle cx="135.8" cy="767.3" r="1.65"/><circle cx="102.7" cy="793.0" r="1.65"/><circle cx="101.2" cy="788.9" r="1.65"/><circle cx="127.8" cy="774.9" r="1.65"/><circle cx="98.2" cy="790.7" r="1.65"/><circle cx="106.6" cy="789.9" r="1.65"/><circle cx="116.7" cy="759.1" r="1.65"/><circle cx="101.8" cy="793.1" r="1.65"/><circle cx="120.3" cy="778.5" r="1.65"/><circle cx="101.0" cy="789.8" r="1.65"/><circle cx="116.7" cy="770.0" r="1.65"/><circle cx="101.0" cy="785.7" r="1.65"/><circle cx="113.4" cy="787.0" r="1.65"/><circle cx="101.9" cy="790.9" r="1.65"/><circle cx="113.0" cy="790.5" r="1.65"/><circle cx="101.0" cy="787.2" r="1.65"/><circle cx="99.1" cy="787.4" r="1.65"/><circle cx="105.0" cy="783.4" r="1.65"/><circle cx="98.5" cy="796.9" r="1.65"/><circle cx="108.1" cy="785.6" r="1.65"/><circle cx="93.1" cy="799.4" r="1.65"/><circle cx="106.0" cy="788.4" r="1.65"/><circle cx="90.8" cy="805.4" r="1.65"/><circle cx="87.7" cy="805.4" r="1.65"/><circle cx="86.5" cy="805.4" r="1.65"/><circle cx="227.9" cy="680.0" r="1.65"/><circle cx="218.5" cy="684.0" r="1.65"/><circle cx="208.2" cy="704.5" r="1.65"/><circle cx="205.1" cy="720.2" r="1.65"/><circle cx="149.1" cy="724.6" r="1.65"/><circle cx="145.5" cy="727.7" r="1.65"/><circle cx="165.2" cy="724.6" r="1.65"/><circle cx="168.4" cy="725.4" r="1.65"/><circle cx="177.1" cy="729.3" r="1.65"/><circle cx="154.2" cy="729.7" r="1.65"/><circle cx="132.9" cy="731.3" r="1.65"/><circle cx="162.9" cy="732.5" r="1.65"/><circle cx="138.4" cy="735.2" r="1.65"/><circle cx="136.5" cy="738.8" r="1.65"/><circle cx="165.2" cy="738.8" r="1.65"/><circle cx="101.4" cy="740.7" r="1.65"/><circle cx="109.3" cy="743.1" r="1.65"/><circle cx="114.4" cy="743.9" r="1.65"/><circle cx="131.7" cy="741.9" r="1.65"/><circle cx="143.2" cy="743.5" r="1.65"/><circle cx="147.5" cy="741.9" r="1.65"/><circle cx="136.5" cy="745.1" r="1.65"/><circle cx="116.0" cy="747.8" r="1.65"/><circle cx="124.2" cy="747.8" r="1.65"/><circle cx="143.9" cy="747.4" r="1.65"/><circle cx="165.2" cy="748.2" r="1.65"/><circle cx="134.5" cy="750.2" r="1.65"/><circle cx="149.1" cy="750.6" r="1.65"/><circle cx="145.1" cy="753.4" r="1.65"/><circle cx="115.6" cy="754.9" r="1.65"/><circle cx="126.2" cy="754.9" r="1.65"/><circle cx="157.0" cy="758.1" r="1.65"/><circle cx="130.2" cy="758.5" r="1.65"/><circle cx="99.4" cy="759.3" r="1.65"/><circle cx="106.1" cy="760.5" r="1.65"/><circle cx="111.2" cy="760.1" r="1.65"/><circle cx="122.7" cy="759.3" r="1.65"/><circle cx="144.7" cy="762.0" r="1.65"/><circle cx="139.6" cy="764.0" r="1.65"/><circle cx="152.2" cy="770.3" r="1.65"/><circle cx="136.5" cy="775.8" r="1.65"/><circle cx="125.4" cy="787.3" r="1.65"/><circle cx="108.9" cy="795.5" r="1.65"/><circle cx="104.5" cy="798.3" r="1.65"/><circle cx="100.2" cy="805.0" r="1.65"/><circle cx="129.0" cy="764.0" r="1.65"/><circle cx="132.9" cy="766.0" r="1.65"/><circle cx="125.0" cy="767.9" r="1.65"/><circle cx="127.0" cy="771.9" r="1.65"/></g>
<text transform="translate(81.70,811.90) scale(0.86,1)" font-size="16.6" text-anchor="end" font-weight="normal" fill="#000" stroke="#000" stroke-width="0.28">0</text>
<text transform="translate(86.80,821.55) scale(0.86,1)" font-size="16.6" text-anchor="middle" font-weight="normal" fill="#000" stroke="#000" stroke-width="0.28">0</text>
<text transform="translate(81.70,732.30) scale(0.86,1)" font-size="16.6" text-anchor="end" font-weight="normal" fill="#000" stroke="#000" stroke-width="0.28">200</text>
<text transform="translate(165.98,821.55) scale(0.86,1)" font-size="16.6" text-anchor="middle" font-weight="normal" fill="#000" stroke="#000" stroke-width="0.28">200</text>
<text transform="translate(81.70,652.70) scale(0.86,1)" font-size="16.6" text-anchor="end" font-weight="normal" fill="#000" stroke="#000" stroke-width="0.28">400</text>
<text transform="translate(245.16,821.55) scale(0.86,1)" font-size="16.6" text-anchor="middle" font-weight="normal" fill="#000" stroke="#000" stroke-width="0.28">400</text>
<path d="M288.00 647.70V805.40H445.70M288.00 785.69h5.3M307.71 805.40v-5.3M288.00 765.98h5.3M327.43 805.40v-5.3M288.00 746.26h5.3M347.14 805.40v-5.3M288.00 726.55h5.3M366.85 805.40v-5.3M288.00 706.84h5.3M386.56 805.40v-5.3M288.00 687.12h5.3M406.27 805.40v-5.3M288.00 667.41h5.3M425.99 805.40v-5.3M288.00 647.70h5.3M445.70 805.40v-5.3" fill="none" stroke="#222" stroke-width="1.2"/>
<line x1="288.00" y1="805.40" x2="445.70" y2="647.70" stroke="#1a1a1a" stroke-width="1.2" stroke-dasharray="2.05 1.92"/>
<g fill="#2394FB"><circle cx="314.3" cy="767.0" r="1.65"/><circle cx="299.3" cy="785.3" r="1.65"/><circle cx="306.3" cy="796.0" r="1.65"/><circle cx="310.5" cy="775.2" r="1.65"/><circle cx="316.6" cy="773.4" r="1.65"/><circle cx="309.9" cy="780.7" r="1.65"/><circle cx="304.4" cy="782.5" r="1.65"/><circle cx="307.9" cy="771.4" r="1.65"/><circle cx="326.8" cy="760.3" r="1.65"/><circle cx="309.6" cy="790.2" r="1.65"/><circle cx="309.9" cy="790.0" r="1.65"/><circle cx="297.6" cy="795.1" r="1.65"/><circle cx="312.2" cy="786.9" r="1.65"/><circle cx="300.0" cy="798.3" r="1.65"/><circle cx="301.6" cy="788.0" r="1.65"/><circle cx="308.9" cy="779.2" r="1.65"/><circle cx="306.5" cy="778.6" r="1.65"/><circle cx="306.7" cy="790.2" r="1.65"/><circle cx="297.8" cy="796.6" r="1.65"/><circle cx="307.6" cy="788.9" r="1.65"/><circle cx="307.3" cy="791.2" r="1.65"/><circle cx="309.2" cy="787.2" r="1.65"/><circle cx="297.3" cy="791.2" r="1.65"/><circle cx="321.0" cy="775.1" r="1.65"/><circle cx="299.9" cy="790.4" r="1.65"/><circle cx="324.4" cy="775.9" r="1.65"/><circle cx="300.4" cy="792.2" r="1.65"/><circle cx="317.7" cy="774.4" r="1.65"/><circle cx="294.9" cy="790.3" r="1.65"/><circle cx="301.0" cy="794.3" r="1.65"/><circle cx="295.5" cy="791.1" r="1.65"/><circle cx="317.7" cy="778.0" r="1.65"/><circle cx="307.3" cy="774.9" r="1.65"/><circle cx="328.3" cy="760.9" r="1.65"/><circle cx="321.5" cy="760.4" r="1.65"/><circle cx="306.1" cy="781.9" r="1.65"/><circle cx="301.1" cy="798.4" r="1.65"/><circle cx="291.3" cy="794.0" r="1.65"/><circle cx="303.2" cy="790.9" r="1.65"/><circle cx="300.3" cy="793.3" r="1.65"/><circle cx="311.6" cy="780.5" r="1.65"/><circle cx="300.9" cy="792.4" r="1.65"/><circle cx="303.9" cy="787.3" r="1.65"/><circle cx="295.5" cy="795.2" r="1.65"/><circle cx="302.0" cy="788.1" r="1.65"/><circle cx="309.3" cy="785.7" r="1.65"/><circle cx="295.0" cy="785.0" r="1.65"/><circle cx="312.0" cy="772.7" r="1.65"/><circle cx="304.8" cy="779.4" r="1.65"/><circle cx="305.9" cy="781.1" r="1.65"/><circle cx="326.2" cy="766.8" r="1.65"/><circle cx="303.5" cy="792.3" r="1.65"/><circle cx="299.8" cy="790.4" r="1.65"/><circle cx="306.2" cy="787.6" r="1.65"/><circle cx="326.1" cy="764.9" r="1.65"/><circle cx="301.2" cy="792.3" r="1.65"/><circle cx="311.3" cy="790.1" r="1.65"/><circle cx="302.3" cy="796.7" r="1.65"/><circle cx="322.3" cy="767.2" r="1.65"/><circle cx="305.5" cy="792.6" r="1.65"/><circle cx="313.3" cy="777.7" r="1.65"/><circle cx="310.5" cy="772.4" r="1.65"/><circle cx="299.6" cy="785.8" r="1.65"/><circle cx="328.0" cy="758.9" r="1.65"/><circle cx="323.1" cy="776.0" r="1.65"/><circle cx="302.9" cy="795.2" r="1.65"/><circle cx="297.4" cy="792.0" r="1.65"/><circle cx="300.5" cy="795.2" r="1.65"/><circle cx="310.2" cy="783.9" r="1.65"/><circle cx="307.6" cy="784.0" r="1.65"/><circle cx="295.7" cy="798.0" r="1.65"/><circle cx="312.0" cy="777.3" r="1.65"/><circle cx="298.6" cy="783.9" r="1.65"/><circle cx="302.9" cy="792.9" r="1.65"/><circle cx="311.9" cy="785.2" r="1.65"/><circle cx="314.6" cy="771.5" r="1.65"/><circle cx="293.3" cy="794.5" r="1.65"/><circle cx="294.5" cy="793.3" r="1.65"/><circle cx="300.2" cy="788.9" r="1.65"/><circle cx="307.4" cy="782.2" r="1.65"/><circle cx="302.0" cy="798.8" r="1.65"/><circle cx="290.9" cy="796.6" r="1.65"/><circle cx="324.8" cy="757.3" r="1.65"/><circle cx="322.5" cy="760.6" r="1.65"/><circle cx="305.0" cy="789.9" r="1.65"/><circle cx="307.2" cy="783.5" r="1.65"/><circle cx="315.4" cy="789.0" r="1.65"/><circle cx="310.6" cy="789.4" r="1.65"/><circle cx="310.0" cy="776.2" r="1.65"/><circle cx="320.2" cy="784.9" r="1.65"/><circle cx="298.7" cy="797.8" r="1.65"/><circle cx="297.1" cy="802.0" r="1.65"/><circle cx="313.6" cy="787.7" r="1.65"/><circle cx="303.7" cy="789.3" r="1.65"/><circle cx="319.8" cy="776.9" r="1.65"/><circle cx="310.3" cy="786.6" r="1.65"/><circle cx="299.8" cy="795.7" r="1.65"/><circle cx="304.2" cy="790.7" r="1.65"/><circle cx="318.4" cy="763.0" r="1.65"/><circle cx="302.7" cy="795.6" r="1.65"/><circle cx="298.3" cy="794.6" r="1.65"/><circle cx="305.7" cy="791.4" r="1.65"/><circle cx="299.3" cy="789.3" r="1.65"/><circle cx="302.6" cy="786.9" r="1.65"/><circle cx="330.1" cy="768.5" r="1.65"/><circle cx="307.2" cy="782.9" r="1.65"/><circle cx="322.6" cy="759.3" r="1.65"/><circle cx="304.7" cy="799.2" r="1.65"/><circle cx="309.1" cy="775.3" r="1.65"/><circle cx="293.4" cy="796.1" r="1.65"/><circle cx="315.6" cy="779.2" r="1.65"/><circle cx="294.7" cy="795.0" r="1.65"/><circle cx="304.1" cy="785.0" r="1.65"/><circle cx="307.8" cy="781.6" r="1.65"/><circle cx="295.5" cy="794.5" r="1.65"/><circle cx="297.0" cy="789.0" r="1.65"/><circle cx="302.6" cy="780.7" r="1.65"/><circle cx="297.2" cy="786.5" r="1.65"/><circle cx="296.2" cy="794.1" r="1.65"/><circle cx="305.8" cy="784.5" r="1.65"/><circle cx="297.2" cy="797.4" r="1.65"/><circle cx="314.9" cy="778.3" r="1.65"/><circle cx="297.0" cy="789.4" r="1.65"/><circle cx="303.5" cy="790.4" r="1.65"/><circle cx="314.4" cy="771.4" r="1.65"/><circle cx="304.6" cy="794.6" r="1.65"/><circle cx="323.2" cy="768.6" r="1.65"/><circle cx="308.2" cy="786.6" r="1.65"/><circle cx="292.9" cy="784.4" r="1.65"/><circle cx="319.0" cy="775.4" r="1.65"/><circle cx="302.6" cy="790.8" r="1.65"/><circle cx="300.6" cy="792.6" r="1.65"/><circle cx="320.1" cy="774.8" r="1.65"/><circle cx="309.6" cy="783.2" r="1.65"/><circle cx="301.0" cy="793.2" r="1.65"/><circle cx="309.6" cy="789.4" r="1.65"/><circle cx="320.2" cy="761.7" r="1.65"/><circle cx="308.6" cy="787.7" r="1.65"/><circle cx="329.1" cy="762.4" r="1.65"/><circle cx="308.5" cy="783.0" r="1.65"/><circle cx="315.8" cy="762.0" r="1.65"/><circle cx="304.9" cy="792.5" r="1.65"/><circle cx="305.1" cy="786.4" r="1.65"/><circle cx="316.2" cy="769.6" r="1.65"/><circle cx="297.9" cy="788.8" r="1.65"/><circle cx="298.0" cy="795.6" r="1.65"/><circle cx="304.4" cy="792.1" r="1.65"/><circle cx="294.2" cy="799.3" r="1.65"/><circle cx="292.5" cy="800.1" r="1.65"/><circle cx="300.0" cy="790.0" r="1.65"/><circle cx="321.8" cy="768.9" r="1.65"/><circle cx="312.4" cy="783.7" r="1.65"/><circle cx="297.7" cy="778.8" r="1.65"/><circle cx="323.9" cy="770.8" r="1.65"/><circle cx="316.0" cy="784.1" r="1.65"/><circle cx="307.5" cy="786.8" r="1.65"/><circle cx="334.7" cy="767.5" r="1.65"/><circle cx="313.0" cy="775.2" r="1.65"/><circle cx="307.7" cy="791.8" r="1.65"/><circle cx="308.0" cy="789.1" r="1.65"/><circle cx="416.1" cy="664.3" r="1.65"/><circle cx="412.6" cy="702.9" r="1.65"/><circle cx="345.6" cy="712.0" r="1.65"/><circle cx="355.0" cy="719.5" r="1.65"/><circle cx="363.7" cy="723.0" r="1.65"/><circle cx="380.3" cy="716.7" r="1.65"/><circle cx="388.1" cy="719.8" r="1.65"/><circle cx="379.5" cy="747.4" r="1.65"/><circle cx="364.1" cy="729.7" r="1.65"/><circle cx="345.6" cy="734.4" r="1.65"/><circle cx="352.3" cy="735.6" r="1.65"/><circle cx="359.0" cy="734.0" r="1.65"/><circle cx="328.6" cy="737.6" r="1.65"/><circle cx="357.0" cy="738.0" r="1.65"/><circle cx="350.7" cy="740.0" r="1.65"/><circle cx="344.8" cy="741.9" r="1.65"/><circle cx="354.2" cy="741.1" r="1.65"/><circle cx="352.3" cy="745.5" r="1.65"/><circle cx="347.1" cy="746.3" r="1.65"/><circle cx="330.2" cy="745.9" r="1.65"/><circle cx="310.5" cy="749.4" r="1.65"/><circle cx="305.3" cy="751.0" r="1.65"/><circle cx="321.9" cy="750.6" r="1.65"/><circle cx="329.4" cy="750.6" r="1.65"/><circle cx="304.6" cy="754.1" r="1.65"/><circle cx="350.3" cy="752.6" r="1.65"/><circle cx="356.6" cy="753.4" r="1.65"/><circle cx="316.0" cy="756.9" r="1.65"/><circle cx="325.5" cy="757.3" r="1.65"/><circle cx="333.3" cy="754.9" r="1.65"/><circle cx="340.8" cy="754.9" r="1.65"/><circle cx="303.8" cy="758.5" r="1.65"/><circle cx="308.5" cy="761.6" r="1.65"/><circle cx="303.8" cy="762.4" r="1.65"/><circle cx="312.8" cy="760.5" r="1.65"/><circle cx="322.3" cy="761.6" r="1.65"/><circle cx="331.0" cy="761.6" r="1.65"/><circle cx="340.0" cy="764.8" r="1.65"/><circle cx="337.7" cy="766.8" r="1.65"/><circle cx="344.0" cy="768.7" r="1.65"/><circle cx="337.3" cy="772.3" r="1.65"/><circle cx="326.6" cy="787.7" r="1.65"/><circle cx="293.1" cy="805.4" r="1.65"/><circle cx="295.1" cy="805.4" r="1.65"/><circle cx="297.1" cy="805.4" r="1.65"/><circle cx="299.0" cy="805.4" r="1.65"/><circle cx="308.5" cy="804.6" r="1.65"/><circle cx="312.4" cy="805.4" r="1.65"/><circle cx="317.2" cy="805.4" r="1.65"/><circle cx="323.9" cy="805.4" r="1.65"/><circle cx="293.5" cy="789.6" r="1.65"/><circle cx="295.9" cy="789.6" r="1.65"/><circle cx="298.6" cy="789.6" r="1.65"/><circle cx="301.8" cy="789.6" r="1.65"/><circle cx="305.0" cy="789.6" r="1.65"/><circle cx="307.3" cy="789.6" r="1.65"/><circle cx="309.3" cy="789.6" r="1.65"/><circle cx="319.9" cy="789.6" r="1.65"/><circle cx="321.1" cy="789.6" r="1.65"/></g>
<text transform="translate(283.65,811.90) scale(0.86,1)" font-size="16.6" text-anchor="end" font-weight="normal" fill="#000" stroke="#000" stroke-width="0.28">0</text>
<text transform="translate(288.60,821.55) scale(0.86,1)" font-size="16.6" text-anchor="middle" font-weight="normal" fill="#000" stroke="#000" stroke-width="0.28">0</text>
<text transform="translate(283.65,732.30) scale(0.86,1)" font-size="16.6" text-anchor="end" font-weight="normal" fill="#000" stroke="#000" stroke-width="0.28">200</text>
<text transform="translate(367.78,821.55) scale(0.86,1)" font-size="16.6" text-anchor="middle" font-weight="normal" fill="#000" stroke="#000" stroke-width="0.28">200</text>
<text transform="translate(283.65,652.70) scale(0.86,1)" font-size="16.6" text-anchor="end" font-weight="normal" fill="#000" stroke="#000" stroke-width="0.28">400</text>
<text transform="translate(446.96,821.55) scale(0.86,1)" font-size="16.6" text-anchor="middle" font-weight="normal" fill="#000" stroke="#000" stroke-width="0.28">400</text>
<text transform="translate(26.2,775.15) rotate(-90)" font-size="17.3" fill="#000" stroke="#000" stroke-width="0.28" textLength="96.5" lengthAdjust="spacingAndGlyphs">Firing rate with</text>
<text transform="translate(47.9,810.15) rotate(-90)" font-size="17.3" fill="#000" stroke="#000" stroke-width="0.28" textLength="166.5" lengthAdjust="spacingAndGlyphs">microsaccades (spikes/s)</text>
<path d="M566.47 651.00V721.20M566.47 737.30V807.70" stroke="#000" stroke-width="1.0" fill="none"/>
<g fill="#33C8FD" stroke="#0c4560" stroke-width="0.5"><rect x="543.00" y="717.40" width="4.78" height="3.80"/><rect x="547.77" y="717.40" width="4.78" height="3.80"/><rect x="552.55" y="709.50" width="4.78" height="11.70"/><rect x="557.33" y="691.30" width="4.78" height="29.90"/><rect x="562.10" y="655.80" width="4.78" height="65.40"/><rect x="566.88" y="668.20" width="4.78" height="53.00"/><rect x="571.65" y="688.40" width="4.78" height="32.80"/><rect x="576.42" y="703.50" width="4.78" height="17.70"/><rect x="581.20" y="711.30" width="4.78" height="9.90"/><rect x="585.98" y="708.40" width="4.78" height="12.80"/><rect x="590.75" y="711.30" width="4.78" height="9.90"/><rect x="595.52" y="719.20" width="4.78" height="2.00"/><rect x="600.30" y="719.20" width="4.78" height="2.00"/><rect x="605.08" y="719.20" width="4.78" height="2.00"/></g>
<g fill="#2394FB" stroke="#0b3270" stroke-width="0.5"><rect x="543.00" y="737.30" width="4.78" height="19.00"/><rect x="552.55" y="737.30" width="4.78" height="6.30"/><rect x="557.33" y="737.30" width="4.78" height="18.00"/><rect x="562.10" y="737.30" width="4.78" height="54.20"/><rect x="566.88" y="737.30" width="4.78" height="63.90"/><rect x="571.65" y="737.30" width="4.78" height="26.30"/><rect x="576.42" y="737.30" width="4.78" height="16.10"/><rect x="581.20" y="737.30" width="4.78" height="7.40"/><rect x="585.98" y="737.30" width="4.78" height="5.80"/><rect x="590.75" y="737.30" width="4.78" height="3.80"/><rect x="595.52" y="737.30" width="4.78" height="2.00"/><rect x="600.30" y="737.30" width="4.78" height="4.80"/><rect x="605.08" y="737.30" width="4.78" height="3.80"/></g>
<path d="M570.60 651.20V721.20M569.50 737.30V808.30" stroke="#f5101c" stroke-width="1.0" fill="none"/>
<path d="M566.10 644.20h9l-4.5 7z" fill="#fb0d1b"/>
<path d="M565.00 815.30h9l-4.5 -7z" fill="#fb0d1b"/>
<path d="M542.40 721.20H614.61M542.40 737.30H614.61M542.40 721.20v-2.2M542.40 737.30v2.2M554.43 721.20v-2.2M554.43 737.30v2.2M566.47 721.20v-2.2M566.47 737.30v2.2M578.50 721.20v-2.2M578.50 737.30v2.2M590.54 721.20v-2.2M590.54 737.30v2.2M602.57 721.20v-2.2M602.57 737.30v2.2M614.61 721.20v-2.2M614.61 737.30v2.2" stroke="#000" stroke-width="1.15" fill="none"/>
<text transform="translate(543.20,735.00) scale(0.86,1)" font-size="16.6" text-anchor="middle" font-weight="normal" fill="#000" stroke="#000" stroke-width="0.28">0</text>
<text transform="translate(566.78,735.00) scale(0.86,1)" font-size="16.6" text-anchor="middle" font-weight="normal" fill="#000" stroke="#000" stroke-width="0.28">1</text>
<text transform="translate(590.36,735.00) scale(0.86,1)" font-size="16.6" text-anchor="middle" font-weight="normal" fill="#000" stroke="#000" stroke-width="0.28">2</text>
<text transform="translate(613.94,735.00) scale(0.86,1)" font-size="16.6" text-anchor="middle" font-weight="normal" fill="#000" stroke="#000" stroke-width="0.28">3</text>
<path d="M605.40 665.70V694.20" stroke="#111" stroke-width="1.0"/>
<text transform="translate(601.60,685.30) scale(0.87,1)" font-size="16.3" text-anchor="end" font-weight="normal" fill="#000" stroke="#000" stroke-width="0.28">0.1</text>
<path d="M608.70 757.50V780.80" stroke="#111" stroke-width="1.0"/>
<text transform="translate(603.50,774.50) scale(0.87,1)" font-size="16.3" text-anchor="end" font-weight="normal" fill="#000" stroke="#000" stroke-width="0.28">0.1</text>
<text transform="translate(594.60,707.60) scale(0.93,1)" font-size="11.6" text-anchor="start" font-weight="normal" fill="#33C8FD" stroke="#33C8FD" stroke-width="0.28">Brights</text>
<text transform="translate(594.60,754.50) scale(0.93,1)" font-size="11.6" text-anchor="start" font-weight="normal" fill="#2394FB" stroke="#2394FB" stroke-width="0.28">Darks</text>
<text transform="translate(531.2,812.75) rotate(-90)" font-size="17.4" fill="#000" stroke="#000" stroke-width="0.28" textLength="163" lengthAdjust="spacingAndGlyphs">Frequency of occurrence</text>
<text transform="translate(639.0,719.80) rotate(90)" font-size="12" fill="#000" stroke="#000" stroke-width="0.2" textLength="18.6" lengthAdjust="spacingAndGlyphs">p=1</text>
<text transform="translate(666.0,660.10) rotate(90)" font-size="25.5" font-weight="bold" fill="#000" textLength="138.5" lengthAdjust="spacingAndGlyphs">50% contrast</text>
<path d="M85.60 849.60V1007.30H243.30M85.60 987.59h5.3M105.31 1007.30v-5.3M85.60 967.88h5.3M125.02 1007.30v-5.3M85.60 948.16h5.3M144.74 1007.30v-5.3M85.60 928.45h5.3M164.45 1007.30v-5.3M85.60 908.74h5.3M184.16 1007.30v-5.3M85.60 889.02h5.3M203.88 1007.30v-5.3M85.60 869.31h5.3M223.59 1007.30v-5.3M85.60 849.60h5.3M243.30 1007.30v-5.3" fill="none" stroke="#222" stroke-width="1.2"/>
<line x1="85.60" y1="1007.30" x2="243.30" y2="849.60" stroke="#1a1a1a" stroke-width="1.2" stroke-dasharray="2.05 1.92"/>
<g fill="#33C8FD"><circle cx="107.7" cy="974.9" r="1.65"/><circle cx="127.8" cy="976.6" r="1.65"/><circle cx="98.4" cy="991.9" r="1.65"/><circle cx="109.9" cy="981.9" r="1.65"/><circle cx="91.2" cy="994.2" r="1.65"/><circle cx="97.0" cy="989.6" r="1.65"/><circle cx="123.1" cy="968.4" r="1.65"/><circle cx="95.3" cy="996.3" r="1.65"/><circle cx="102.3" cy="987.9" r="1.65"/><circle cx="101.4" cy="985.0" r="1.65"/><circle cx="109.3" cy="984.5" r="1.65"/><circle cx="102.0" cy="996.2" r="1.65"/><circle cx="102.5" cy="984.4" r="1.65"/><circle cx="108.5" cy="981.8" r="1.65"/><circle cx="90.6" cy="998.3" r="1.65"/><circle cx="105.2" cy="980.5" r="1.65"/><circle cx="97.8" cy="994.2" r="1.65"/><circle cx="94.6" cy="1001.6" r="1.65"/><circle cx="99.6" cy="988.1" r="1.65"/><circle cx="118.5" cy="976.1" r="1.65"/><circle cx="109.9" cy="983.9" r="1.65"/><circle cx="93.0" cy="1001.4" r="1.65"/><circle cx="110.1" cy="986.2" r="1.65"/><circle cx="100.6" cy="995.3" r="1.65"/><circle cx="108.4" cy="987.3" r="1.65"/><circle cx="116.4" cy="993.4" r="1.65"/><circle cx="94.2" cy="1003.8" r="1.65"/><circle cx="102.7" cy="980.9" r="1.65"/><circle cx="104.9" cy="988.8" r="1.65"/><circle cx="105.7" cy="985.4" r="1.65"/><circle cx="99.6" cy="993.0" r="1.65"/><circle cx="89.5" cy="996.9" r="1.65"/><circle cx="100.4" cy="990.4" r="1.65"/><circle cx="117.5" cy="979.2" r="1.65"/><circle cx="110.1" cy="985.3" r="1.65"/><circle cx="121.4" cy="969.9" r="1.65"/><circle cx="98.0" cy="987.7" r="1.65"/><circle cx="106.6" cy="984.3" r="1.65"/><circle cx="98.4" cy="994.4" r="1.65"/><circle cx="104.2" cy="982.8" r="1.65"/><circle cx="94.5" cy="996.4" r="1.65"/><circle cx="100.2" cy="994.5" r="1.65"/><circle cx="125.1" cy="968.3" r="1.65"/><circle cx="94.3" cy="996.8" r="1.65"/><circle cx="95.2" cy="1000.3" r="1.65"/><circle cx="115.2" cy="965.0" r="1.65"/><circle cx="106.3" cy="999.3" r="1.65"/><circle cx="110.9" cy="975.6" r="1.65"/><circle cx="101.0" cy="996.8" r="1.65"/><circle cx="102.5" cy="981.4" r="1.65"/><circle cx="101.5" cy="999.0" r="1.65"/><circle cx="111.9" cy="977.8" r="1.65"/><circle cx="103.5" cy="997.6" r="1.65"/><circle cx="103.1" cy="998.5" r="1.65"/><circle cx="94.5" cy="996.2" r="1.65"/><circle cx="99.7" cy="991.5" r="1.65"/><circle cx="111.5" cy="978.1" r="1.65"/><circle cx="95.8" cy="993.0" r="1.65"/><circle cx="105.3" cy="991.1" r="1.65"/><circle cx="99.0" cy="991.3" r="1.65"/><circle cx="128.2" cy="975.5" r="1.65"/><circle cx="116.8" cy="979.3" r="1.65"/><circle cx="97.1" cy="992.5" r="1.65"/><circle cx="97.8" cy="996.7" r="1.65"/><circle cx="104.4" cy="974.4" r="1.65"/><circle cx="98.3" cy="988.4" r="1.65"/><circle cx="108.8" cy="985.8" r="1.65"/><circle cx="95.4" cy="992.2" r="1.65"/><circle cx="100.7" cy="987.5" r="1.65"/><circle cx="101.0" cy="984.6" r="1.65"/><circle cx="105.9" cy="996.1" r="1.65"/><circle cx="106.5" cy="976.7" r="1.65"/><circle cx="100.9" cy="995.0" r="1.65"/><circle cx="104.2" cy="999.3" r="1.65"/><circle cx="102.9" cy="986.7" r="1.65"/><circle cx="97.9" cy="1000.7" r="1.65"/><circle cx="106.4" cy="994.5" r="1.65"/><circle cx="90.5" cy="1000.5" r="1.65"/><circle cx="122.2" cy="976.1" r="1.65"/><circle cx="100.6" cy="988.8" r="1.65"/><circle cx="97.0" cy="1002.6" r="1.65"/><circle cx="99.7" cy="998.3" r="1.65"/><circle cx="108.4" cy="979.0" r="1.65"/><circle cx="113.7" cy="994.5" r="1.65"/><circle cx="99.5" cy="987.6" r="1.65"/><circle cx="98.8" cy="986.5" r="1.65"/><circle cx="108.1" cy="987.0" r="1.65"/><circle cx="100.4" cy="997.5" r="1.65"/><circle cx="96.5" cy="995.8" r="1.65"/><circle cx="94.4" cy="996.1" r="1.65"/><circle cx="102.4" cy="1000.2" r="1.65"/><circle cx="103.8" cy="990.0" r="1.65"/><circle cx="93.0" cy="999.9" r="1.65"/><circle cx="108.3" cy="972.1" r="1.65"/><circle cx="101.3" cy="995.7" r="1.65"/><circle cx="106.8" cy="984.9" r="1.65"/><circle cx="103.6" cy="986.8" r="1.65"/><circle cx="118.2" cy="974.9" r="1.65"/><circle cx="94.6" cy="992.5" r="1.65"/><circle cx="99.6" cy="1000.2" r="1.65"/><circle cx="99.0" cy="990.9" r="1.65"/><circle cx="112.0" cy="986.4" r="1.65"/><circle cx="94.2" cy="994.4" r="1.65"/><circle cx="113.9" cy="979.9" r="1.65"/><circle cx="100.8" cy="993.4" r="1.65"/><circle cx="102.1" cy="988.2" r="1.65"/><circle cx="103.0" cy="997.4" r="1.65"/><circle cx="115.5" cy="977.3" r="1.65"/><circle cx="123.1" cy="975.5" r="1.65"/><circle cx="134.9" cy="974.4" r="1.65"/><circle cx="86.3" cy="997.9" r="1.65"/><circle cx="94.3" cy="1003.9" r="1.65"/><circle cx="96.4" cy="990.1" r="1.65"/><circle cx="121.8" cy="969.2" r="1.65"/><circle cx="94.3" cy="1003.3" r="1.65"/><circle cx="95.0" cy="993.7" r="1.65"/><circle cx="112.5" cy="979.3" r="1.65"/><circle cx="111.4" cy="981.6" r="1.65"/><circle cx="100.2" cy="999.5" r="1.65"/><circle cx="108.0" cy="982.2" r="1.65"/><circle cx="97.9" cy="990.1" r="1.65"/><circle cx="101.7" cy="993.5" r="1.65"/><circle cx="94.4" cy="999.5" r="1.65"/><circle cx="100.2" cy="981.4" r="1.65"/><circle cx="102.5" cy="997.9" r="1.65"/><circle cx="114.6" cy="977.6" r="1.65"/><circle cx="93.3" cy="986.1" r="1.65"/><circle cx="95.9" cy="995.7" r="1.65"/><circle cx="91.0" cy="1002.2" r="1.65"/><circle cx="96.4" cy="992.3" r="1.65"/><circle cx="92.9" cy="996.7" r="1.65"/><circle cx="99.7" cy="996.8" r="1.65"/><circle cx="105.0" cy="985.3" r="1.65"/><circle cx="110.8" cy="969.6" r="1.65"/><circle cx="110.0" cy="987.4" r="1.65"/><circle cx="97.0" cy="989.9" r="1.65"/><circle cx="95.8" cy="1000.8" r="1.65"/><circle cx="121.3" cy="983.6" r="1.65"/><circle cx="101.4" cy="993.1" r="1.65"/><circle cx="115.0" cy="981.9" r="1.65"/><circle cx="100.2" cy="996.0" r="1.65"/><circle cx="93.2" cy="995.5" r="1.65"/><circle cx="90.1" cy="995.3" r="1.65"/><circle cx="102.5" cy="1001.2" r="1.65"/><circle cx="98.8" cy="991.2" r="1.65"/><circle cx="95.3" cy="994.9" r="1.65"/><circle cx="119.2" cy="973.7" r="1.65"/><circle cx="90.6" cy="995.6" r="1.65"/><circle cx="112.5" cy="971.4" r="1.65"/><circle cx="113.6" cy="978.1" r="1.65"/><circle cx="125.5" cy="968.3" r="1.65"/><circle cx="107.9" cy="986.7" r="1.65"/><circle cx="102.4" cy="989.7" r="1.65"/><circle cx="93.7" cy="999.7" r="1.65"/><circle cx="93.7" cy="1004.6" r="1.65"/><circle cx="102.0" cy="988.4" r="1.65"/><circle cx="93.1" cy="1002.7" r="1.65"/><circle cx="92.8" cy="988.8" r="1.65"/><circle cx="108.5" cy="964.7" r="1.65"/><circle cx="96.6" cy="999.1" r="1.65"/><circle cx="97.3" cy="1000.5" r="1.65"/><circle cx="101.0" cy="988.6" r="1.65"/><circle cx="114.4" cy="977.4" r="1.65"/><circle cx="109.9" cy="992.8" r="1.65"/><circle cx="95.0" cy="998.2" r="1.65"/><circle cx="102.1" cy="989.7" r="1.65"/><circle cx="107.7" cy="976.7" r="1.65"/><circle cx="105.3" cy="986.6" r="1.65"/><circle cx="99.2" cy="992.2" r="1.65"/><circle cx="89.4" cy="993.0" r="1.65"/><circle cx="92.7" cy="1007.3" r="1.65"/><circle cx="97.8" cy="1007.3" r="1.65"/><circle cx="95.5" cy="1007.3" r="1.65"/><circle cx="95.9" cy="1007.3" r="1.65"/><circle cx="96.3" cy="1007.3" r="1.65"/><circle cx="90.3" cy="1007.3" r="1.65"/><circle cx="233.4" cy="862.6" r="1.65"/><circle cx="226.3" cy="866.2" r="1.65"/><circle cx="215.3" cy="886.3" r="1.65"/><circle cx="158.9" cy="911.9" r="1.65"/><circle cx="160.5" cy="914.3" r="1.65"/><circle cx="138.0" cy="917.0" r="1.65"/><circle cx="140.4" cy="916.2" r="1.65"/><circle cx="151.8" cy="924.1" r="1.65"/><circle cx="153.8" cy="922.9" r="1.65"/><circle cx="170.4" cy="921.7" r="1.65"/><circle cx="103.3" cy="931.6" r="1.65"/><circle cx="160.5" cy="931.6" r="1.65"/><circle cx="138.8" cy="936.3" r="1.65"/><circle cx="144.3" cy="937.9" r="1.65"/><circle cx="149.1" cy="935.5" r="1.65"/><circle cx="173.9" cy="938.3" r="1.65"/><circle cx="109.6" cy="939.1" r="1.65"/><circle cx="158.9" cy="939.1" r="1.65"/><circle cx="104.9" cy="943.0" r="1.65"/><circle cx="109.3" cy="944.2" r="1.65"/><circle cx="115.2" cy="943.0" r="1.65"/><circle cx="118.3" cy="944.2" r="1.65"/><circle cx="131.7" cy="945.0" r="1.65"/><circle cx="136.5" cy="943.0" r="1.65"/><circle cx="139.6" cy="945.4" r="1.65"/><circle cx="145.1" cy="945.0" r="1.65"/><circle cx="153.0" cy="943.0" r="1.65"/><circle cx="161.3" cy="943.8" r="1.65"/><circle cx="164.4" cy="944.2" r="1.65"/><circle cx="136.1" cy="947.4" r="1.65"/><circle cx="114.8" cy="950.5" r="1.65"/><circle cx="125.4" cy="949.7" r="1.65"/><circle cx="130.9" cy="952.1" r="1.65"/><circle cx="145.5" cy="950.1" r="1.65"/><circle cx="162.5" cy="950.1" r="1.65"/><circle cx="95.5" cy="954.1" r="1.65"/><circle cx="104.5" cy="956.4" r="1.65"/><circle cx="123.1" cy="954.5" r="1.65"/><circle cx="128.6" cy="956.8" r="1.65"/><circle cx="140.4" cy="954.5" r="1.65"/><circle cx="144.3" cy="955.3" r="1.65"/><circle cx="147.1" cy="956.4" r="1.65"/><circle cx="155.0" cy="956.4" r="1.65"/><circle cx="113.6" cy="958.8" r="1.65"/><circle cx="140.8" cy="959.2" r="1.65"/><circle cx="149.1" cy="963.5" r="1.65"/><circle cx="132.1" cy="975.4" r="1.65"/><circle cx="142.8" cy="975.8" r="1.65"/><circle cx="125.4" cy="978.5" r="1.65"/><circle cx="127.0" cy="985.6" r="1.65"/><circle cx="138.4" cy="990.3" r="1.65"/><circle cx="142.8" cy="991.5" r="1.65"/><circle cx="139.2" cy="1005.3" r="1.65"/><circle cx="95.9" cy="973.4" r="1.65"/><circle cx="102.2" cy="971.4" r="1.65"/><circle cx="121.1" cy="963.9" r="1.65"/><circle cx="125.0" cy="965.9" r="1.65"/><circle cx="129.0" cy="967.9" r="1.65"/><circle cx="127.0" cy="962.0" r="1.65"/></g>
<text transform="translate(81.70,1013.55) scale(0.86,1)" font-size="16.6" text-anchor="end" font-weight="normal" fill="#000" stroke="#000" stroke-width="0.28">0</text>
<text transform="translate(86.80,1023.20) scale(0.86,1)" font-size="16.6" text-anchor="middle" font-weight="normal" fill="#000" stroke="#000" stroke-width="0.28">0</text>
<text transform="translate(81.70,933.95) scale(0.86,1)" font-size="16.6" text-anchor="end" font-weight="normal" fill="#000" stroke="#000" stroke-width="0.28">200</text>
<text transform="translate(165.98,1023.20) scale(0.86,1)" font-size="16.6" text-anchor="middle" font-weight="normal" fill="#000" stroke="#000" stroke-width="0.28">200</text>
<text transform="translate(81.70,854.35) scale(0.86,1)" font-size="16.6" text-anchor="end" font-weight="normal" fill="#000" stroke="#000" stroke-width="0.28">400</text>
<text transform="translate(245.16,1023.20) scale(0.86,1)" font-size="16.6" text-anchor="middle" font-weight="normal" fill="#000" stroke="#000" stroke-width="0.28">400</text>
<path d="M288.00 849.60V1007.30H445.70M288.00 987.59h5.3M307.71 1007.30v-5.3M288.00 967.88h5.3M327.43 1007.30v-5.3M288.00 948.16h5.3M347.14 1007.30v-5.3M288.00 928.45h5.3M366.85 1007.30v-5.3M288.00 908.74h5.3M386.56 1007.30v-5.3M288.00 889.02h5.3M406.27 1007.30v-5.3M288.00 869.31h5.3M425.99 1007.30v-5.3M288.00 849.60h5.3M445.70 1007.30v-5.3" fill="none" stroke="#222" stroke-width="1.2"/>
<line x1="288.00" y1="1007.30" x2="445.70" y2="849.60" stroke="#1a1a1a" stroke-width="1.2" stroke-dasharray="2.05 1.92"/>
<g fill="#2394FB"><circle cx="319.0" cy="968.9" r="1.65"/><circle cx="310.3" cy="982.3" r="1.65"/><circle cx="305.3" cy="992.8" r="1.65"/><circle cx="293.2" cy="993.7" r="1.65"/><circle cx="317.9" cy="964.8" r="1.65"/><circle cx="337.1" cy="976.5" r="1.65"/><circle cx="319.2" cy="981.3" r="1.65"/><circle cx="312.0" cy="980.8" r="1.65"/><circle cx="301.3" cy="1001.2" r="1.65"/><circle cx="308.9" cy="991.4" r="1.65"/><circle cx="306.0" cy="990.5" r="1.65"/><circle cx="303.5" cy="989.3" r="1.65"/><circle cx="320.2" cy="971.5" r="1.65"/><circle cx="308.4" cy="989.0" r="1.65"/><circle cx="291.8" cy="1000.1" r="1.65"/><circle cx="299.7" cy="979.1" r="1.65"/><circle cx="298.3" cy="991.0" r="1.65"/><circle cx="302.4" cy="987.2" r="1.65"/><circle cx="320.4" cy="988.7" r="1.65"/><circle cx="319.1" cy="971.5" r="1.65"/><circle cx="306.4" cy="985.2" r="1.65"/><circle cx="298.4" cy="1000.1" r="1.65"/><circle cx="296.0" cy="996.3" r="1.65"/><circle cx="304.9" cy="992.5" r="1.65"/><circle cx="316.0" cy="967.5" r="1.65"/><circle cx="300.1" cy="988.6" r="1.65"/><circle cx="311.2" cy="976.3" r="1.65"/><circle cx="300.0" cy="987.7" r="1.65"/><circle cx="295.7" cy="993.1" r="1.65"/><circle cx="317.0" cy="982.6" r="1.65"/><circle cx="312.4" cy="981.5" r="1.65"/><circle cx="299.3" cy="991.6" r="1.65"/><circle cx="300.1" cy="996.4" r="1.65"/><circle cx="303.9" cy="999.0" r="1.65"/><circle cx="301.3" cy="985.1" r="1.65"/><circle cx="301.7" cy="985.9" r="1.65"/><circle cx="320.4" cy="977.9" r="1.65"/><circle cx="298.8" cy="990.6" r="1.65"/><circle cx="321.7" cy="976.8" r="1.65"/><circle cx="307.9" cy="982.4" r="1.65"/><circle cx="313.9" cy="971.5" r="1.65"/><circle cx="293.2" cy="1003.6" r="1.65"/><circle cx="300.4" cy="992.8" r="1.65"/><circle cx="303.5" cy="992.0" r="1.65"/><circle cx="300.6" cy="988.0" r="1.65"/><circle cx="321.7" cy="958.9" r="1.65"/><circle cx="301.3" cy="999.1" r="1.65"/><circle cx="313.1" cy="987.5" r="1.65"/><circle cx="302.2" cy="995.6" r="1.65"/><circle cx="310.1" cy="955.4" r="1.65"/><circle cx="298.1" cy="990.8" r="1.65"/><circle cx="300.9" cy="1001.5" r="1.65"/><circle cx="296.4" cy="986.7" r="1.65"/><circle cx="294.7" cy="990.6" r="1.65"/><circle cx="318.5" cy="976.1" r="1.65"/><circle cx="300.2" cy="992.0" r="1.65"/><circle cx="313.6" cy="979.8" r="1.65"/><circle cx="296.7" cy="993.3" r="1.65"/><circle cx="299.3" cy="997.1" r="1.65"/><circle cx="312.2" cy="973.1" r="1.65"/><circle cx="291.3" cy="992.2" r="1.65"/><circle cx="304.5" cy="998.0" r="1.65"/><circle cx="320.2" cy="970.5" r="1.65"/><circle cx="306.9" cy="986.1" r="1.65"/><circle cx="303.1" cy="992.2" r="1.65"/><circle cx="310.5" cy="977.9" r="1.65"/><circle cx="294.9" cy="996.0" r="1.65"/><circle cx="298.7" cy="997.1" r="1.65"/><circle cx="296.8" cy="994.6" r="1.65"/><circle cx="300.9" cy="1000.9" r="1.65"/><circle cx="306.5" cy="990.2" r="1.65"/><circle cx="290.7" cy="993.1" r="1.65"/><circle cx="313.1" cy="986.8" r="1.65"/><circle cx="311.6" cy="981.9" r="1.65"/><circle cx="303.6" cy="987.0" r="1.65"/><circle cx="295.0" cy="996.6" r="1.65"/><circle cx="303.0" cy="1002.0" r="1.65"/><circle cx="319.9" cy="975.8" r="1.65"/><circle cx="300.9" cy="989.8" r="1.65"/><circle cx="327.3" cy="974.2" r="1.65"/><circle cx="300.7" cy="984.4" r="1.65"/><circle cx="326.8" cy="970.7" r="1.65"/><circle cx="300.1" cy="989.9" r="1.65"/><circle cx="293.5" cy="989.6" r="1.65"/><circle cx="307.8" cy="982.2" r="1.65"/><circle cx="311.6" cy="985.0" r="1.65"/><circle cx="298.1" cy="997.4" r="1.65"/><circle cx="318.6" cy="981.5" r="1.65"/><circle cx="307.3" cy="1001.1" r="1.65"/><circle cx="297.7" cy="996.3" r="1.65"/><circle cx="311.8" cy="986.3" r="1.65"/><circle cx="326.9" cy="973.4" r="1.65"/><circle cx="317.1" cy="974.8" r="1.65"/><circle cx="320.2" cy="969.6" r="1.65"/><circle cx="310.0" cy="990.5" r="1.65"/><circle cx="306.0" cy="983.5" r="1.65"/><circle cx="316.6" cy="969.2" r="1.65"/><circle cx="304.8" cy="990.5" r="1.65"/><circle cx="297.9" cy="998.1" r="1.65"/><circle cx="311.7" cy="982.3" r="1.65"/><circle cx="292.6" cy="995.7" r="1.65"/><circle cx="309.2" cy="990.1" r="1.65"/><circle cx="323.7" cy="974.1" r="1.65"/><circle cx="296.6" cy="999.8" r="1.65"/><circle cx="304.1" cy="986.6" r="1.65"/><circle cx="297.3" cy="991.9" r="1.65"/><circle cx="294.7" cy="999.3" r="1.65"/><circle cx="306.2" cy="996.4" r="1.65"/><circle cx="303.7" cy="993.9" r="1.65"/><circle cx="323.2" cy="979.6" r="1.65"/><circle cx="300.9" cy="991.9" r="1.65"/><circle cx="304.3" cy="983.6" r="1.65"/><circle cx="292.9" cy="990.1" r="1.65"/><circle cx="321.6" cy="970.0" r="1.65"/><circle cx="303.3" cy="990.2" r="1.65"/><circle cx="310.6" cy="978.4" r="1.65"/><circle cx="304.7" cy="994.5" r="1.65"/><circle cx="300.9" cy="974.0" r="1.65"/><circle cx="297.3" cy="998.7" r="1.65"/><circle cx="294.1" cy="1001.3" r="1.65"/><circle cx="299.3" cy="985.7" r="1.65"/><circle cx="305.6" cy="988.5" r="1.65"/><circle cx="308.0" cy="977.4" r="1.65"/><circle cx="310.9" cy="964.4" r="1.65"/><circle cx="291.9" cy="995.4" r="1.65"/><circle cx="292.6" cy="979.9" r="1.65"/><circle cx="295.8" cy="987.4" r="1.65"/><circle cx="321.6" cy="980.9" r="1.65"/><circle cx="307.2" cy="980.8" r="1.65"/><circle cx="299.6" cy="998.5" r="1.65"/><circle cx="304.5" cy="987.7" r="1.65"/><circle cx="294.7" cy="996.8" r="1.65"/><circle cx="291.1" cy="1000.8" r="1.65"/><circle cx="308.4" cy="976.1" r="1.65"/><circle cx="299.9" cy="993.6" r="1.65"/><circle cx="294.1" cy="997.3" r="1.65"/><circle cx="304.6" cy="985.9" r="1.65"/><circle cx="304.7" cy="993.4" r="1.65"/><circle cx="304.7" cy="988.5" r="1.65"/><circle cx="302.0" cy="990.8" r="1.65"/><circle cx="312.5" cy="977.0" r="1.65"/><circle cx="324.6" cy="971.3" r="1.65"/><circle cx="311.8" cy="978.1" r="1.65"/><circle cx="309.5" cy="988.3" r="1.65"/><circle cx="310.3" cy="992.7" r="1.65"/><circle cx="297.4" cy="976.9" r="1.65"/><circle cx="318.7" cy="990.5" r="1.65"/><circle cx="300.1" cy="994.6" r="1.65"/><circle cx="321.7" cy="978.0" r="1.65"/><circle cx="309.5" cy="994.0" r="1.65"/><circle cx="301.3" cy="988.8" r="1.65"/><circle cx="300.1" cy="1004.1" r="1.65"/><circle cx="313.4" cy="977.6" r="1.65"/><circle cx="311.1" cy="992.9" r="1.65"/><circle cx="300.1" cy="995.8" r="1.65"/><circle cx="412.6" cy="872.9" r="1.65"/><circle cx="361.7" cy="873.3" r="1.65"/><circle cx="338.9" cy="893.8" r="1.65"/><circle cx="302.6" cy="904.0" r="1.65"/><circle cx="403.1" cy="892.6" r="1.65"/><circle cx="393.7" cy="894.2" r="1.65"/><circle cx="381.0" cy="900.1" r="1.65"/><circle cx="338.5" cy="916.2" r="1.65"/><circle cx="344.0" cy="916.6" r="1.65"/><circle cx="351.5" cy="917.8" r="1.65"/><circle cx="344.8" cy="919.0" r="1.65"/><circle cx="346.3" cy="920.6" r="1.65"/><circle cx="351.5" cy="922.5" r="1.65"/><circle cx="341.6" cy="925.7" r="1.65"/><circle cx="350.3" cy="927.3" r="1.65"/><circle cx="352.3" cy="927.7" r="1.65"/><circle cx="312.0" cy="930.0" r="1.65"/><circle cx="337.7" cy="929.6" r="1.65"/><circle cx="349.1" cy="931.6" r="1.65"/><circle cx="370.8" cy="930.4" r="1.65"/><circle cx="336.5" cy="935.2" r="1.65"/><circle cx="335.3" cy="936.3" r="1.65"/><circle cx="344.0" cy="934.4" r="1.65"/><circle cx="347.1" cy="934.4" r="1.65"/><circle cx="363.3" cy="935.5" r="1.65"/><circle cx="316.4" cy="939.1" r="1.65"/><circle cx="359.4" cy="942.6" r="1.65"/><circle cx="362.9" cy="941.9" r="1.65"/><circle cx="338.5" cy="945.0" r="1.65"/><circle cx="347.9" cy="946.2" r="1.65"/><circle cx="331.8" cy="947.8" r="1.65"/><circle cx="331.0" cy="950.5" r="1.65"/><circle cx="340.8" cy="950.5" r="1.65"/><circle cx="342.0" cy="952.5" r="1.65"/><circle cx="310.5" cy="952.9" r="1.65"/><circle cx="328.6" cy="954.9" r="1.65"/><circle cx="303.0" cy="955.7" r="1.65"/><circle cx="316.8" cy="956.4" r="1.65"/><circle cx="319.1" cy="956.0" r="1.65"/><circle cx="339.6" cy="955.7" r="1.65"/><circle cx="342.0" cy="956.4" r="1.65"/><circle cx="322.3" cy="958.0" r="1.65"/><circle cx="325.1" cy="958.8" r="1.65"/><circle cx="303.0" cy="961.2" r="1.65"/><circle cx="305.0" cy="961.2" r="1.65"/><circle cx="310.5" cy="962.0" r="1.65"/><circle cx="312.4" cy="963.5" r="1.65"/><circle cx="326.6" cy="962.0" r="1.65"/><circle cx="342.0" cy="960.8" r="1.65"/><circle cx="347.5" cy="963.5" r="1.65"/><circle cx="333.3" cy="964.7" r="1.65"/><circle cx="337.3" cy="965.5" r="1.65"/><circle cx="341.6" cy="968.7" r="1.65"/><circle cx="352.7" cy="970.6" r="1.65"/><circle cx="328.6" cy="991.1" r="1.65"/><circle cx="312.4" cy="998.2" r="1.65"/><circle cx="293.5" cy="1007.3" r="1.65"/><circle cx="298.3" cy="1007.3" r="1.65"/><circle cx="300.2" cy="1007.3" r="1.65"/><circle cx="304.2" cy="1007.3" r="1.65"/><circle cx="323.5" cy="967.9" r="1.65"/><circle cx="327.4" cy="969.8" r="1.65"/><circle cx="321.5" cy="971.8" r="1.65"/><circle cx="325.5" cy="973.8" r="1.65"/><circle cx="319.5" cy="965.9" r="1.65"/></g>
<text transform="translate(283.65,1013.55) scale(0.86,1)" font-size="16.6" text-anchor="end" font-weight="normal" fill="#000" stroke="#000" stroke-width="0.28">0</text>
<text transform="translate(288.60,1023.20) scale(0.86,1)" font-size="16.6" text-anchor="middle" font-weight="normal" fill="#000" stroke="#000" stroke-width="0.28">0</text>
<text transform="translate(283.65,933.95) scale(0.86,1)" font-size="16.6" text-anchor="end" font-weight="normal" fill="#000" stroke="#000" stroke-width="0.28">200</text>
<text transform="translate(367.78,1023.20) scale(0.86,1)" font-size="16.6" text-anchor="middle" font-weight="normal" fill="#000" stroke="#000" stroke-width="0.28">200</text>
<text transform="translate(283.65,854.35) scale(0.86,1)" font-size="16.6" text-anchor="end" font-weight="normal" fill="#000" stroke="#000" stroke-width="0.28">400</text>
<text transform="translate(446.96,1023.20) scale(0.86,1)" font-size="16.6" text-anchor="middle" font-weight="normal" fill="#000" stroke="#000" stroke-width="0.28">400</text>
<text transform="translate(26.2,976.90) rotate(-90)" font-size="17.3" fill="#000" stroke="#000" stroke-width="0.28" textLength="96.5" lengthAdjust="spacingAndGlyphs">Firing rate with</text>
<text transform="translate(47.9,1011.90) rotate(-90)" font-size="17.3" fill="#000" stroke="#000" stroke-width="0.28" textLength="166.5" lengthAdjust="spacingAndGlyphs">microsaccades (spikes/s)</text>
<path d="M566.47 852.30V922.50M566.47 938.60V1009.00" stroke="#000" stroke-width="1.0" fill="none"/>
<g fill="#33C8FD" stroke="#0c4560" stroke-width="0.5"><rect x="543.00" y="912.60" width="4.78" height="9.90"/><rect x="547.77" y="918.70" width="4.78" height="3.80"/><rect x="552.55" y="912.60" width="4.78" height="9.90"/><rect x="557.33" y="893.60" width="4.78" height="28.90"/><rect x="562.10" y="858.60" width="4.78" height="63.90"/><rect x="566.88" y="866.60" width="4.78" height="55.90"/><rect x="571.65" y="876.10" width="4.78" height="46.40"/><rect x="576.42" y="904.50" width="4.78" height="18.00"/><rect x="581.20" y="915.80" width="4.78" height="6.70"/><rect x="585.98" y="917.20" width="4.78" height="5.30"/><rect x="590.75" y="918.70" width="4.78" height="3.80"/><rect x="600.30" y="917.20" width="4.78" height="5.30"/><rect x="605.08" y="918.70" width="4.78" height="3.80"/></g>
<g fill="#2394FB" stroke="#0b3270" stroke-width="0.5"><rect x="543.00" y="938.60" width="4.78" height="9.90"/><rect x="547.77" y="938.60" width="4.78" height="3.80"/><rect x="552.55" y="938.60" width="4.78" height="7.00"/><rect x="557.33" y="938.60" width="4.78" height="33.30"/><rect x="562.10" y="938.60" width="4.78" height="58.80"/><rect x="566.88" y="938.60" width="4.78" height="38.00"/><rect x="571.65" y="938.60" width="4.78" height="48.90"/><rect x="576.42" y="938.60" width="4.78" height="28.90"/><rect x="581.20" y="938.60" width="4.78" height="20.90"/><rect x="585.98" y="938.60" width="4.78" height="11.40"/><rect x="590.75" y="938.60" width="4.78" height="4.50"/><rect x="595.52" y="938.60" width="4.78" height="4.50"/><rect x="600.30" y="938.60" width="4.78" height="2.30"/><rect x="605.08" y="938.60" width="4.78" height="6.60"/></g>
<path d="M570.80 852.50V922.50M573.50 938.60V1009.60" stroke="#f5101c" stroke-width="1.0" fill="none"/>
<path d="M566.30 845.50h9l-4.5 7z" fill="#fb0d1b"/>
<path d="M569.00 1016.60h9l-4.5 -7z" fill="#fb0d1b"/>
<path d="M542.40 922.50H614.61M542.40 938.60H614.61M542.40 922.50v-2.2M542.40 938.60v2.2M554.43 922.50v-2.2M554.43 938.60v2.2M566.47 922.50v-2.2M566.47 938.60v2.2M578.50 922.50v-2.2M578.50 938.60v2.2M590.54 922.50v-2.2M590.54 938.60v2.2M602.57 922.50v-2.2M602.57 938.60v2.2M614.61 922.50v-2.2M614.61 938.60v2.2" stroke="#000" stroke-width="1.15" fill="none"/>
<text transform="translate(543.20,936.30) scale(0.86,1)" font-size="16.6" text-anchor="middle" font-weight="normal" fill="#000" stroke="#000" stroke-width="0.28">0</text>
<text transform="translate(566.78,936.30) scale(0.86,1)" font-size="16.6" text-anchor="middle" font-weight="normal" fill="#000" stroke="#000" stroke-width="0.28">1</text>
<text transform="translate(590.36,936.30) scale(0.86,1)" font-size="16.6" text-anchor="middle" font-weight="normal" fill="#000" stroke="#000" stroke-width="0.28">2</text>
<text transform="translate(613.94,936.30) scale(0.86,1)" font-size="16.6" text-anchor="middle" font-weight="normal" fill="#000" stroke="#000" stroke-width="0.28">3</text>
<path d="M606.00 867.30V895.70" stroke="#111" stroke-width="1.0"/>
<text transform="translate(601.60,887.00) scale(0.87,1)" font-size="16.3" text-anchor="end" font-weight="normal" fill="#000" stroke="#000" stroke-width="0.28">0.1</text>
<path d="M607.00 965.30V993.80" stroke="#111" stroke-width="1.0"/>
<text transform="translate(601.20,985.00) scale(0.87,1)" font-size="16.3" text-anchor="end" font-weight="normal" fill="#000" stroke="#000" stroke-width="0.28">0.1</text>
<text transform="translate(594.60,908.60) scale(0.93,1)" font-size="11.6" text-anchor="start" font-weight="normal" fill="#33C8FD" stroke="#33C8FD" stroke-width="0.28">Brights</text>
<text transform="translate(594.60,955.80) scale(0.93,1)" font-size="11.6" text-anchor="start" font-weight="normal" fill="#2394FB" stroke="#2394FB" stroke-width="0.28">Darks</text>
<text transform="translate(531.2,1014.20) rotate(-90)" font-size="17.4" fill="#000" stroke="#000" stroke-width="0.28" textLength="163" lengthAdjust="spacingAndGlyphs">Frequency of occurrence</text>
<text transform="translate(639.0,907.45) rotate(90)" font-size="12" fill="#000" stroke="#000" stroke-width="0.2" textLength="47.7" lengthAdjust="spacingAndGlyphs">p=0.6105</text>
<text transform="translate(666.0,855.80) rotate(90)" font-size="25.5" font-weight="bold" fill="#000" textLength="149.9" lengthAdjust="spacingAndGlyphs">100% contrast</text>
<text x="122.2" y="1049.4" font-size="17" fill="#000" stroke="#000" stroke-width="0.28" textLength="288" lengthAdjust="spacingAndGlyphs">Firing rate without microsaccades (spikes/s)</text>
<text x="498.6" y="1030.7" font-size="17" fill="#000" stroke="#000" stroke-width="0.28" textLength="162" lengthAdjust="spacingAndGlyphs">Ratio of microsaccade to</text>
<text x="487.0" y="1051.7" font-size="17" fill="#000" stroke="#000" stroke-width="0.28" textLength="184.8" lengthAdjust="spacingAndGlyphs">no-microsaccade responses</text>
</svg>
</body></html>
